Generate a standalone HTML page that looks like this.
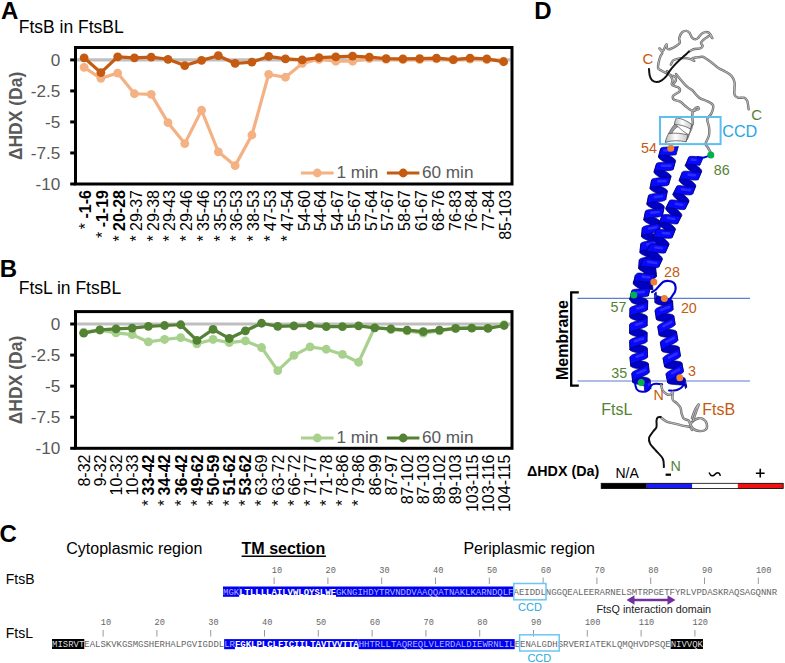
<!DOCTYPE html>
<html><head><meta charset="utf-8"><style>
html,body{margin:0;padding:0;background:#fff;}
svg{display:block;}
</style></head><body>
<svg width="785" height="663" viewBox="0 0 785 663">
<rect width="785" height="663" fill="#fff"/>
<text x="0.90" y="18.90" font-family="'Liberation Sans', sans-serif" font-size="24" fill="#000" font-weight="bold" text-anchor="start" >A</text>
<text x="-0.20" y="276.80" font-family="'Liberation Sans', sans-serif" font-size="24" fill="#000" font-weight="bold" text-anchor="start" >B</text>
<text x="-0.50" y="541.50" font-family="'Liberation Sans', sans-serif" font-size="24" fill="#000" font-weight="bold" text-anchor="start" >C</text>
<text x="534.20" y="18.80" font-family="'Liberation Sans', sans-serif" font-size="24" fill="#000" font-weight="bold" text-anchor="start" >D</text>
<text x="18.70" y="32.70" font-family="'Liberation Sans', sans-serif" font-size="17.5" fill="#000" text-anchor="start" >FtsB in FtsBL</text>
<line x1="77.0" y1="59.9" x2="510.5" y2="59.9" stroke="#BFBFBF" stroke-width="3.2"/>
<line x1="70.2" y1="59.90" x2="75.5" y2="59.90" stroke="#000" stroke-width="3"/>
<text x="60.30" y="65.50" font-family="'Liberation Sans', sans-serif" font-size="17.2" fill="#595959" text-anchor="end" >0</text>
<line x1="70.2" y1="90.92" x2="75.5" y2="90.92" stroke="#000" stroke-width="3"/>
<text x="60.30" y="96.52" font-family="'Liberation Sans', sans-serif" font-size="17.2" fill="#595959" text-anchor="end" >-2.5</text>
<line x1="70.2" y1="121.95" x2="75.5" y2="121.95" stroke="#000" stroke-width="3"/>
<text x="60.30" y="127.55" font-family="'Liberation Sans', sans-serif" font-size="17.2" fill="#595959" text-anchor="end" >-5</text>
<line x1="70.2" y1="152.97" x2="75.5" y2="152.97" stroke="#000" stroke-width="3"/>
<text x="60.30" y="158.57" font-family="'Liberation Sans', sans-serif" font-size="17.2" fill="#595959" text-anchor="end" >-7.5</text>
<line x1="70.2" y1="184.00" x2="75.5" y2="184.00" stroke="#000" stroke-width="3"/>
<text x="60.30" y="189.60" font-family="'Liberation Sans', sans-serif" font-size="17.2" fill="#595959" text-anchor="end" >-10</text>
<rect x="75.5" y="47.50" width="436.5" height="136.50" fill="none" stroke="#000" stroke-width="3"/>
<text transform="translate(22.0,115.90) rotate(-90)" font-family="'Liberation Sans', sans-serif" font-size="17.5" font-weight="bold" fill="#595959" text-anchor="middle">ΔHDX (Da)</text>
<polyline points="84.10,67.29 100.88,78.36 117.66,73.07 134.44,93.75 151.22,94.37 168.00,122.68 184.78,143.61 201.56,110.25 218.34,151.86 235.12,165.64 251.90,134.99 268.68,74.30 285.46,77.26 302.24,63.47 319.02,59.28 335.80,61.25 352.58,61.25 369.36,58.67 386.14,59.28 402.92,59.65 419.70,59.65 436.48,58.92 453.26,59.90 470.04,59.16 486.82,59.65 503.60,61.13" fill="none" stroke="#F4B183" stroke-width="3.2" stroke-linejoin="round"/>
<circle cx="84.10" cy="67.29" r="4.4" fill="#F4B183"/>
<circle cx="100.88" cy="78.36" r="4.4" fill="#F4B183"/>
<circle cx="117.66" cy="73.07" r="4.4" fill="#F4B183"/>
<circle cx="134.44" cy="93.75" r="4.4" fill="#F4B183"/>
<circle cx="151.22" cy="94.37" r="4.4" fill="#F4B183"/>
<circle cx="168.00" cy="122.68" r="4.4" fill="#F4B183"/>
<circle cx="184.78" cy="143.61" r="4.4" fill="#F4B183"/>
<circle cx="201.56" cy="110.25" r="4.4" fill="#F4B183"/>
<circle cx="218.34" cy="151.86" r="4.4" fill="#F4B183"/>
<circle cx="235.12" cy="165.64" r="4.4" fill="#F4B183"/>
<circle cx="251.90" cy="134.99" r="4.4" fill="#F4B183"/>
<circle cx="268.68" cy="74.30" r="4.4" fill="#F4B183"/>
<circle cx="285.46" cy="77.26" r="4.4" fill="#F4B183"/>
<circle cx="302.24" cy="63.47" r="4.4" fill="#F4B183"/>
<circle cx="319.02" cy="59.28" r="4.4" fill="#F4B183"/>
<circle cx="335.80" cy="61.25" r="4.4" fill="#F4B183"/>
<circle cx="352.58" cy="61.25" r="4.4" fill="#F4B183"/>
<circle cx="369.36" cy="58.67" r="4.4" fill="#F4B183"/>
<circle cx="386.14" cy="59.28" r="4.4" fill="#F4B183"/>
<circle cx="402.92" cy="59.65" r="4.4" fill="#F4B183"/>
<circle cx="419.70" cy="59.65" r="4.4" fill="#F4B183"/>
<circle cx="436.48" cy="58.92" r="4.4" fill="#F4B183"/>
<circle cx="453.26" cy="59.90" r="4.4" fill="#F4B183"/>
<circle cx="470.04" cy="59.16" r="4.4" fill="#F4B183"/>
<circle cx="486.82" cy="59.65" r="4.4" fill="#F4B183"/>
<circle cx="503.60" cy="61.13" r="4.4" fill="#F4B183"/>
<polyline points="84.10,57.81 100.88,72.58 117.66,56.82 134.44,57.81 151.22,57.19 168.00,59.28 184.78,65.56 201.56,60.39 218.34,55.71 235.12,63.47 251.90,62.12 268.68,56.45 285.46,58.92 302.24,59.90 319.02,57.56 335.80,56.82 352.58,56.08 369.36,57.07 386.14,58.55 402.92,58.92 419.70,58.67 436.48,58.18 453.26,59.65 470.04,58.18 486.82,58.92 503.60,61.75" fill="none" stroke="#C55A11" stroke-width="3.2" stroke-linejoin="round"/>
<circle cx="84.10" cy="57.81" r="4.4" fill="#C55A11"/>
<circle cx="100.88" cy="72.58" r="4.4" fill="#C55A11"/>
<circle cx="117.66" cy="56.82" r="4.4" fill="#C55A11"/>
<circle cx="134.44" cy="57.81" r="4.4" fill="#C55A11"/>
<circle cx="151.22" cy="57.19" r="4.4" fill="#C55A11"/>
<circle cx="168.00" cy="59.28" r="4.4" fill="#C55A11"/>
<circle cx="184.78" cy="65.56" r="4.4" fill="#C55A11"/>
<circle cx="201.56" cy="60.39" r="4.4" fill="#C55A11"/>
<circle cx="218.34" cy="55.71" r="4.4" fill="#C55A11"/>
<circle cx="235.12" cy="63.47" r="4.4" fill="#C55A11"/>
<circle cx="251.90" cy="62.12" r="4.4" fill="#C55A11"/>
<circle cx="268.68" cy="56.45" r="4.4" fill="#C55A11"/>
<circle cx="285.46" cy="58.92" r="4.4" fill="#C55A11"/>
<circle cx="302.24" cy="59.90" r="4.4" fill="#C55A11"/>
<circle cx="319.02" cy="57.56" r="4.4" fill="#C55A11"/>
<circle cx="335.80" cy="56.82" r="4.4" fill="#C55A11"/>
<circle cx="352.58" cy="56.08" r="4.4" fill="#C55A11"/>
<circle cx="369.36" cy="57.07" r="4.4" fill="#C55A11"/>
<circle cx="386.14" cy="58.55" r="4.4" fill="#C55A11"/>
<circle cx="402.92" cy="58.92" r="4.4" fill="#C55A11"/>
<circle cx="419.70" cy="58.67" r="4.4" fill="#C55A11"/>
<circle cx="436.48" cy="58.18" r="4.4" fill="#C55A11"/>
<circle cx="453.26" cy="59.65" r="4.4" fill="#C55A11"/>
<circle cx="470.04" cy="58.18" r="4.4" fill="#C55A11"/>
<circle cx="486.82" cy="58.92" r="4.4" fill="#C55A11"/>
<circle cx="503.60" cy="61.75" r="4.4" fill="#C55A11"/>
<line x1="300.9" y1="173.0" x2="333.6" y2="173.0" stroke="#F4B183" stroke-width="3.2"/><circle cx="317.3" cy="173.0" r="4.4" fill="#F4B183"/>
<text x="336.40" y="178.30" font-family="'Liberation Sans', sans-serif" font-size="17.2" fill="#595959" text-anchor="start" >1 min</text>
<line x1="386.9" y1="173.0" x2="419.4" y2="173.0" stroke="#C55A11" stroke-width="3.2"/><circle cx="403.2" cy="173.0" r="4.4" fill="#C55A11"/>
<text x="421.90" y="178.30" font-family="'Liberation Sans', sans-serif" font-size="17.2" fill="#595959" text-anchor="start" >60 min</text>
<text transform="translate(91.40,190.00) rotate(-90)" font-family="'Liberation Sans', sans-serif" font-size="16" fill="#000" text-anchor="end"><tspan font-weight="normal">* </tspan><tspan font-weight="bold">-1-6</tspan></text>
<text transform="translate(108.18,190.00) rotate(-90)" font-family="'Liberation Sans', sans-serif" font-size="16" fill="#000" text-anchor="end"><tspan font-weight="normal">* </tspan><tspan font-weight="bold">-1-19</tspan></text>
<text transform="translate(124.96,190.00) rotate(-90)" font-family="'Liberation Sans', sans-serif" font-size="16" fill="#000" text-anchor="end"><tspan font-weight="normal">* </tspan><tspan font-weight="bold">20-28</tspan></text>
<text transform="translate(141.74,190.00) rotate(-90)" font-family="'Liberation Sans', sans-serif" font-size="16" fill="#000" text-anchor="end"><tspan font-weight="normal">* </tspan><tspan font-weight="normal">29-37</tspan></text>
<text transform="translate(158.52,190.00) rotate(-90)" font-family="'Liberation Sans', sans-serif" font-size="16" fill="#000" text-anchor="end"><tspan font-weight="normal">* </tspan><tspan font-weight="normal">29-38</tspan></text>
<text transform="translate(175.30,190.00) rotate(-90)" font-family="'Liberation Sans', sans-serif" font-size="16" fill="#000" text-anchor="end"><tspan font-weight="normal">* </tspan><tspan font-weight="normal">29-43</tspan></text>
<text transform="translate(192.08,190.00) rotate(-90)" font-family="'Liberation Sans', sans-serif" font-size="16" fill="#000" text-anchor="end"><tspan font-weight="normal">* </tspan><tspan font-weight="normal">29-46</tspan></text>
<text transform="translate(208.86,190.00) rotate(-90)" font-family="'Liberation Sans', sans-serif" font-size="16" fill="#000" text-anchor="end"><tspan font-weight="normal">* </tspan><tspan font-weight="normal">35-46</tspan></text>
<text transform="translate(225.64,190.00) rotate(-90)" font-family="'Liberation Sans', sans-serif" font-size="16" fill="#000" text-anchor="end"><tspan font-weight="normal">* </tspan><tspan font-weight="normal">35-53</tspan></text>
<text transform="translate(242.42,190.00) rotate(-90)" font-family="'Liberation Sans', sans-serif" font-size="16" fill="#000" text-anchor="end"><tspan font-weight="normal">* </tspan><tspan font-weight="normal">36-53</tspan></text>
<text transform="translate(259.20,190.00) rotate(-90)" font-family="'Liberation Sans', sans-serif" font-size="16" fill="#000" text-anchor="end"><tspan font-weight="normal">* </tspan><tspan font-weight="normal">38-53</tspan></text>
<text transform="translate(275.98,190.00) rotate(-90)" font-family="'Liberation Sans', sans-serif" font-size="16" fill="#000" text-anchor="end"><tspan font-weight="normal">* </tspan><tspan font-weight="normal">47-53</tspan></text>
<text transform="translate(292.76,190.00) rotate(-90)" font-family="'Liberation Sans', sans-serif" font-size="16" fill="#000" text-anchor="end"><tspan font-weight="normal">* </tspan><tspan font-weight="normal">47-54</tspan></text>
<text transform="translate(309.54,190.00) rotate(-90)" font-family="'Liberation Sans', sans-serif" font-size="16" fill="#000" text-anchor="end"><tspan font-weight="normal">54-60</tspan></text>
<text transform="translate(326.32,190.00) rotate(-90)" font-family="'Liberation Sans', sans-serif" font-size="16" fill="#000" text-anchor="end"><tspan font-weight="normal">54-64</tspan></text>
<text transform="translate(343.10,190.00) rotate(-90)" font-family="'Liberation Sans', sans-serif" font-size="16" fill="#000" text-anchor="end"><tspan font-weight="normal">54-67</tspan></text>
<text transform="translate(359.88,190.00) rotate(-90)" font-family="'Liberation Sans', sans-serif" font-size="16" fill="#000" text-anchor="end"><tspan font-weight="normal">55-67</tspan></text>
<text transform="translate(376.66,190.00) rotate(-90)" font-family="'Liberation Sans', sans-serif" font-size="16" fill="#000" text-anchor="end"><tspan font-weight="normal">57-64</tspan></text>
<text transform="translate(393.44,190.00) rotate(-90)" font-family="'Liberation Sans', sans-serif" font-size="16" fill="#000" text-anchor="end"><tspan font-weight="normal">57-67</tspan></text>
<text transform="translate(410.22,190.00) rotate(-90)" font-family="'Liberation Sans', sans-serif" font-size="16" fill="#000" text-anchor="end"><tspan font-weight="normal">58-67</tspan></text>
<text transform="translate(427.00,190.00) rotate(-90)" font-family="'Liberation Sans', sans-serif" font-size="16" fill="#000" text-anchor="end"><tspan font-weight="normal">61-67</tspan></text>
<text transform="translate(443.78,190.00) rotate(-90)" font-family="'Liberation Sans', sans-serif" font-size="16" fill="#000" text-anchor="end"><tspan font-weight="normal">68-76</tspan></text>
<text transform="translate(460.56,190.00) rotate(-90)" font-family="'Liberation Sans', sans-serif" font-size="16" fill="#000" text-anchor="end"><tspan font-weight="normal">76-83</tspan></text>
<text transform="translate(477.34,190.00) rotate(-90)" font-family="'Liberation Sans', sans-serif" font-size="16" fill="#000" text-anchor="end"><tspan font-weight="normal">76-84</tspan></text>
<text transform="translate(494.12,190.00) rotate(-90)" font-family="'Liberation Sans', sans-serif" font-size="16" fill="#000" text-anchor="end"><tspan font-weight="normal">77-84</tspan></text>
<text transform="translate(510.90,190.00) rotate(-90)" font-family="'Liberation Sans', sans-serif" font-size="16" fill="#000" text-anchor="end"><tspan font-weight="normal">85-103</tspan></text>
<text x="18.70" y="294.30" font-family="'Liberation Sans', sans-serif" font-size="17.5" fill="#000" text-anchor="start" >FtsL in FtsBL</text>
<line x1="77.0" y1="324.0" x2="510.5" y2="324.0" stroke="#BFBFBF" stroke-width="3.2"/>
<line x1="70.2" y1="324.00" x2="75.5" y2="324.00" stroke="#000" stroke-width="3"/>
<text x="60.30" y="329.60" font-family="'Liberation Sans', sans-serif" font-size="17.2" fill="#595959" text-anchor="end" >0</text>
<line x1="70.2" y1="355.07" x2="75.5" y2="355.07" stroke="#000" stroke-width="3"/>
<text x="60.30" y="360.68" font-family="'Liberation Sans', sans-serif" font-size="17.2" fill="#595959" text-anchor="end" >-2.5</text>
<line x1="70.2" y1="386.15" x2="75.5" y2="386.15" stroke="#000" stroke-width="3"/>
<text x="60.30" y="391.75" font-family="'Liberation Sans', sans-serif" font-size="17.2" fill="#595959" text-anchor="end" >-5</text>
<line x1="70.2" y1="417.23" x2="75.5" y2="417.23" stroke="#000" stroke-width="3"/>
<text x="60.30" y="422.83" font-family="'Liberation Sans', sans-serif" font-size="17.2" fill="#595959" text-anchor="end" >-7.5</text>
<line x1="70.2" y1="448.30" x2="75.5" y2="448.30" stroke="#000" stroke-width="3"/>
<text x="60.30" y="453.90" font-family="'Liberation Sans', sans-serif" font-size="17.2" fill="#595959" text-anchor="end" >-10</text>
<rect x="75.5" y="311.60" width="436.5" height="136.70" fill="none" stroke="#000" stroke-width="3"/>
<text transform="translate(22.0,380.00) rotate(-90)" font-family="'Liberation Sans', sans-serif" font-size="17.5" font-weight="bold" fill="#595959" text-anchor="middle">ΔHDX (Da)</text>
<polyline points="83.70,332.17 99.87,330.19 116.04,332.91 132.21,334.65 148.38,341.95 164.55,339.48 180.72,337.62 196.89,343.81 213.06,339.48 229.23,342.57 245.40,340.96 261.57,347.52 277.74,370.67 293.91,355.32 310.08,346.90 326.25,349.26 342.42,354.45 358.59,362.25 374.76,327.22 390.93,329.57 407.10,330.81 423.27,333.16 439.44,330.81 455.61,328.33 471.78,327.71 487.95,327.71 504.12,324.62" fill="none" stroke="#A9D18E" stroke-width="3.2" stroke-linejoin="round"/>
<circle cx="83.70" cy="332.17" r="4.4" fill="#A9D18E"/>
<circle cx="99.87" cy="330.19" r="4.4" fill="#A9D18E"/>
<circle cx="116.04" cy="332.91" r="4.4" fill="#A9D18E"/>
<circle cx="132.21" cy="334.65" r="4.4" fill="#A9D18E"/>
<circle cx="148.38" cy="341.95" r="4.4" fill="#A9D18E"/>
<circle cx="164.55" cy="339.48" r="4.4" fill="#A9D18E"/>
<circle cx="180.72" cy="337.62" r="4.4" fill="#A9D18E"/>
<circle cx="196.89" cy="343.81" r="4.4" fill="#A9D18E"/>
<circle cx="213.06" cy="339.48" r="4.4" fill="#A9D18E"/>
<circle cx="229.23" cy="342.57" r="4.4" fill="#A9D18E"/>
<circle cx="245.40" cy="340.96" r="4.4" fill="#A9D18E"/>
<circle cx="261.57" cy="347.52" r="4.4" fill="#A9D18E"/>
<circle cx="277.74" cy="370.67" r="4.4" fill="#A9D18E"/>
<circle cx="293.91" cy="355.32" r="4.4" fill="#A9D18E"/>
<circle cx="310.08" cy="346.90" r="4.4" fill="#A9D18E"/>
<circle cx="326.25" cy="349.26" r="4.4" fill="#A9D18E"/>
<circle cx="342.42" cy="354.45" r="4.4" fill="#A9D18E"/>
<circle cx="358.59" cy="362.25" r="4.4" fill="#A9D18E"/>
<circle cx="374.76" cy="327.22" r="4.4" fill="#A9D18E"/>
<circle cx="390.93" cy="329.57" r="4.4" fill="#A9D18E"/>
<circle cx="407.10" cy="330.81" r="4.4" fill="#A9D18E"/>
<circle cx="423.27" cy="333.16" r="4.4" fill="#A9D18E"/>
<circle cx="439.44" cy="330.81" r="4.4" fill="#A9D18E"/>
<circle cx="455.61" cy="328.33" r="4.4" fill="#A9D18E"/>
<circle cx="471.78" cy="327.71" r="4.4" fill="#A9D18E"/>
<circle cx="487.95" cy="327.71" r="4.4" fill="#A9D18E"/>
<circle cx="504.12" cy="324.62" r="4.4" fill="#A9D18E"/>
<polyline points="83.70,333.16 99.87,329.82 116.04,328.83 132.21,328.09 148.38,326.35 164.55,325.49 180.72,324.74 196.89,340.47 213.06,329.32 229.23,338.48 245.40,330.81 261.57,323.26 277.74,326.35 293.91,325.86 310.08,325.49 326.25,326.72 342.42,326.72 358.59,325.86 374.76,327.84 390.93,328.83 407.10,330.07 423.27,331.55 439.44,330.07 455.61,328.46 471.78,328.21 487.95,328.46 504.12,325.49" fill="none" stroke="#548235" stroke-width="3.2" stroke-linejoin="round"/>
<circle cx="83.70" cy="333.16" r="4.4" fill="#548235"/>
<circle cx="99.87" cy="329.82" r="4.4" fill="#548235"/>
<circle cx="116.04" cy="328.83" r="4.4" fill="#548235"/>
<circle cx="132.21" cy="328.09" r="4.4" fill="#548235"/>
<circle cx="148.38" cy="326.35" r="4.4" fill="#548235"/>
<circle cx="164.55" cy="325.49" r="4.4" fill="#548235"/>
<circle cx="180.72" cy="324.74" r="4.4" fill="#548235"/>
<circle cx="196.89" cy="340.47" r="4.4" fill="#548235"/>
<circle cx="213.06" cy="329.32" r="4.4" fill="#548235"/>
<circle cx="229.23" cy="338.48" r="4.4" fill="#548235"/>
<circle cx="245.40" cy="330.81" r="4.4" fill="#548235"/>
<circle cx="261.57" cy="323.26" r="4.4" fill="#548235"/>
<circle cx="277.74" cy="326.35" r="4.4" fill="#548235"/>
<circle cx="293.91" cy="325.86" r="4.4" fill="#548235"/>
<circle cx="310.08" cy="325.49" r="4.4" fill="#548235"/>
<circle cx="326.25" cy="326.72" r="4.4" fill="#548235"/>
<circle cx="342.42" cy="326.72" r="4.4" fill="#548235"/>
<circle cx="358.59" cy="325.86" r="4.4" fill="#548235"/>
<circle cx="374.76" cy="327.84" r="4.4" fill="#548235"/>
<circle cx="390.93" cy="328.83" r="4.4" fill="#548235"/>
<circle cx="407.10" cy="330.07" r="4.4" fill="#548235"/>
<circle cx="423.27" cy="331.55" r="4.4" fill="#548235"/>
<circle cx="439.44" cy="330.07" r="4.4" fill="#548235"/>
<circle cx="455.61" cy="328.46" r="4.4" fill="#548235"/>
<circle cx="471.78" cy="328.21" r="4.4" fill="#548235"/>
<circle cx="487.95" cy="328.46" r="4.4" fill="#548235"/>
<circle cx="504.12" cy="325.49" r="4.4" fill="#548235"/>
<line x1="300.9" y1="438.0" x2="333.6" y2="438.0" stroke="#A9D18E" stroke-width="3.2"/><circle cx="317.3" cy="438.0" r="4.4" fill="#A9D18E"/>
<text x="336.40" y="443.30" font-family="'Liberation Sans', sans-serif" font-size="17.2" fill="#595959" text-anchor="start" >1 min</text>
<line x1="386.9" y1="438.0" x2="419.4" y2="438.0" stroke="#548235" stroke-width="3.2"/><circle cx="403.2" cy="438.0" r="4.4" fill="#548235"/>
<text x="421.90" y="443.30" font-family="'Liberation Sans', sans-serif" font-size="17.2" fill="#595959" text-anchor="start" >60 min</text>
<text transform="translate(89.50,454.50) rotate(-90)" font-family="'Liberation Sans', sans-serif" font-size="16" fill="#000" text-anchor="end"><tspan font-weight="normal">8-32</tspan></text>
<text transform="translate(105.67,454.50) rotate(-90)" font-family="'Liberation Sans', sans-serif" font-size="16" fill="#000" text-anchor="end"><tspan font-weight="normal">9-32</tspan></text>
<text transform="translate(121.84,454.50) rotate(-90)" font-family="'Liberation Sans', sans-serif" font-size="16" fill="#000" text-anchor="end"><tspan font-weight="normal">10-32</tspan></text>
<text transform="translate(138.01,454.50) rotate(-90)" font-family="'Liberation Sans', sans-serif" font-size="16" fill="#000" text-anchor="end"><tspan font-weight="normal">10-33</tspan></text>
<text transform="translate(154.18,454.50) rotate(-90)" font-family="'Liberation Sans', sans-serif" font-size="16" fill="#000" text-anchor="end"><tspan font-weight="normal">* </tspan><tspan font-weight="bold">33-42</tspan></text>
<text transform="translate(170.35,454.50) rotate(-90)" font-family="'Liberation Sans', sans-serif" font-size="16" fill="#000" text-anchor="end"><tspan font-weight="normal">* </tspan><tspan font-weight="bold">34-42</tspan></text>
<text transform="translate(186.52,454.50) rotate(-90)" font-family="'Liberation Sans', sans-serif" font-size="16" fill="#000" text-anchor="end"><tspan font-weight="normal">* </tspan><tspan font-weight="bold">36-42</tspan></text>
<text transform="translate(202.69,454.50) rotate(-90)" font-family="'Liberation Sans', sans-serif" font-size="16" fill="#000" text-anchor="end"><tspan font-weight="normal">* </tspan><tspan font-weight="bold">49-62</tspan></text>
<text transform="translate(218.86,454.50) rotate(-90)" font-family="'Liberation Sans', sans-serif" font-size="16" fill="#000" text-anchor="end"><tspan font-weight="normal">* </tspan><tspan font-weight="bold">50-59</tspan></text>
<text transform="translate(235.03,454.50) rotate(-90)" font-family="'Liberation Sans', sans-serif" font-size="16" fill="#000" text-anchor="end"><tspan font-weight="normal">* </tspan><tspan font-weight="bold">51-62</tspan></text>
<text transform="translate(251.20,454.50) rotate(-90)" font-family="'Liberation Sans', sans-serif" font-size="16" fill="#000" text-anchor="end"><tspan font-weight="normal">* </tspan><tspan font-weight="bold">53-62</tspan></text>
<text transform="translate(267.37,454.50) rotate(-90)" font-family="'Liberation Sans', sans-serif" font-size="16" fill="#000" text-anchor="end"><tspan font-weight="normal">* </tspan><tspan font-weight="normal">63-69</tspan></text>
<text transform="translate(283.54,454.50) rotate(-90)" font-family="'Liberation Sans', sans-serif" font-size="16" fill="#000" text-anchor="end"><tspan font-weight="normal">* </tspan><tspan font-weight="normal">63-72</tspan></text>
<text transform="translate(299.71,454.50) rotate(-90)" font-family="'Liberation Sans', sans-serif" font-size="16" fill="#000" text-anchor="end"><tspan font-weight="normal">* </tspan><tspan font-weight="normal">66-72</tspan></text>
<text transform="translate(315.88,454.50) rotate(-90)" font-family="'Liberation Sans', sans-serif" font-size="16" fill="#000" text-anchor="end"><tspan font-weight="normal">* </tspan><tspan font-weight="normal">71-77</tspan></text>
<text transform="translate(332.05,454.50) rotate(-90)" font-family="'Liberation Sans', sans-serif" font-size="16" fill="#000" text-anchor="end"><tspan font-weight="normal">* </tspan><tspan font-weight="normal">71-78</tspan></text>
<text transform="translate(348.22,454.50) rotate(-90)" font-family="'Liberation Sans', sans-serif" font-size="16" fill="#000" text-anchor="end"><tspan font-weight="normal">* </tspan><tspan font-weight="normal">78-86</tspan></text>
<text transform="translate(364.39,454.50) rotate(-90)" font-family="'Liberation Sans', sans-serif" font-size="16" fill="#000" text-anchor="end"><tspan font-weight="normal">* </tspan><tspan font-weight="normal">79-86</tspan></text>
<text transform="translate(380.56,454.50) rotate(-90)" font-family="'Liberation Sans', sans-serif" font-size="16" fill="#000" text-anchor="end"><tspan font-weight="normal">86-99</tspan></text>
<text transform="translate(396.73,454.50) rotate(-90)" font-family="'Liberation Sans', sans-serif" font-size="16" fill="#000" text-anchor="end"><tspan font-weight="normal">87-97</tspan></text>
<text transform="translate(412.90,454.50) rotate(-90)" font-family="'Liberation Sans', sans-serif" font-size="16" fill="#000" text-anchor="end"><tspan font-weight="normal">87-102</tspan></text>
<text transform="translate(429.07,454.50) rotate(-90)" font-family="'Liberation Sans', sans-serif" font-size="16" fill="#000" text-anchor="end"><tspan font-weight="normal">87-103</tspan></text>
<text transform="translate(445.24,454.50) rotate(-90)" font-family="'Liberation Sans', sans-serif" font-size="16" fill="#000" text-anchor="end"><tspan font-weight="normal">89-102</tspan></text>
<text transform="translate(461.41,454.50) rotate(-90)" font-family="'Liberation Sans', sans-serif" font-size="16" fill="#000" text-anchor="end"><tspan font-weight="normal">89-103</tspan></text>
<text transform="translate(477.58,454.50) rotate(-90)" font-family="'Liberation Sans', sans-serif" font-size="16" fill="#000" text-anchor="end"><tspan font-weight="normal">103-115</tspan></text>
<text transform="translate(493.75,454.50) rotate(-90)" font-family="'Liberation Sans', sans-serif" font-size="16" fill="#000" text-anchor="end"><tspan font-weight="normal">103-116</tspan></text>
<text transform="translate(509.92,454.50) rotate(-90)" font-family="'Liberation Sans', sans-serif" font-size="16" fill="#000" text-anchor="end"><tspan font-weight="normal">104-115</tspan></text>
<text x="66.30" y="553.70" font-family="'Liberation Sans', sans-serif" font-size="16" fill="#000" text-anchor="start" >Cytoplasmic region</text>
<text x="241.60" y="553.70" font-family="'Liberation Sans', sans-serif" font-size="16" fill="#000" font-weight="bold" text-anchor="start" >TM section</text>
<line x1="241.6" y1="556.2" x2="325.9" y2="556.2" stroke="#000" stroke-width="1.4"/>
<text x="463.40" y="554.00" font-family="'Liberation Sans', sans-serif" font-size="16" fill="#000" text-anchor="start" >Periplasmic region</text>
<text x="5.80" y="584.20" font-family="'Liberation Sans', sans-serif" font-size="14" fill="#000" text-anchor="start" >FtsB</text>
<text x="5.80" y="638.40" font-family="'Liberation Sans', sans-serif" font-size="14" fill="#000" text-anchor="start" >FtsL</text>
<rect x="223.00" y="586.5" width="16.14" height="10.299999999999955" fill="#0000F0"/>
<rect x="239.14" y="586.5" width="96.84" height="8.5" fill="#0000F0"/>
<rect x="335.98" y="586.5" width="177.54" height="10.299999999999955" fill="#0000F0"/>
<text x="223.00" y="594.6" font-family="'Liberation Mono', monospace" font-size="8.97" fill="#B4B4FF" textLength="16.14" lengthAdjust="spacingAndGlyphs">MGK</text>
<text x="239.14" y="594.6" font-family="'Liberation Mono', monospace" font-size="8.97" fill="#fff" font-weight="bold" textLength="96.84" lengthAdjust="spacingAndGlyphs">LTLLLLAILVWLQYSLWF</text>
<text x="335.98" y="594.6" font-family="'Liberation Mono', monospace" font-size="8.97" fill="#B4B4FF" textLength="177.54" lengthAdjust="spacingAndGlyphs">GKNGIHDYTRVNDDVAAQQATNAKLKARNDQLF</text>
<text x="513.52" y="594.6" font-family="'Liberation Mono', monospace" font-size="8.97" fill="#666" textLength="263.62" lengthAdjust="spacingAndGlyphs">AEIDDLNGGQEALEERARNELSMTRPGETFYRLVPDASKRAQSAGQNNR</text>
<line x1="274.11" y1="577.5" x2="274.11" y2="584.0" stroke="#999" stroke-width="1"/>
<text x="271.72" y="572.9" font-family="'Liberation Mono', monospace" font-size="8.6" fill="#666">10</text>
<line x1="327.91" y1="577.5" x2="327.91" y2="584.0" stroke="#999" stroke-width="1"/>
<text x="325.52" y="572.9" font-family="'Liberation Mono', monospace" font-size="8.6" fill="#666">20</text>
<line x1="381.71" y1="577.5" x2="381.71" y2="584.0" stroke="#999" stroke-width="1"/>
<text x="379.32" y="572.9" font-family="'Liberation Mono', monospace" font-size="8.6" fill="#666">30</text>
<line x1="435.51" y1="577.5" x2="435.51" y2="584.0" stroke="#999" stroke-width="1"/>
<text x="433.12" y="572.9" font-family="'Liberation Mono', monospace" font-size="8.6" fill="#666">40</text>
<line x1="489.31" y1="577.5" x2="489.31" y2="584.0" stroke="#999" stroke-width="1"/>
<text x="486.92" y="572.9" font-family="'Liberation Mono', monospace" font-size="8.6" fill="#666">50</text>
<line x1="543.11" y1="577.5" x2="543.11" y2="584.0" stroke="#999" stroke-width="1"/>
<text x="540.72" y="572.9" font-family="'Liberation Mono', monospace" font-size="8.6" fill="#666">60</text>
<line x1="596.91" y1="577.5" x2="596.91" y2="584.0" stroke="#999" stroke-width="1"/>
<text x="594.52" y="572.9" font-family="'Liberation Mono', monospace" font-size="8.6" fill="#666">70</text>
<line x1="650.71" y1="577.5" x2="650.71" y2="584.0" stroke="#999" stroke-width="1"/>
<text x="648.32" y="572.9" font-family="'Liberation Mono', monospace" font-size="8.6" fill="#666">80</text>
<line x1="704.51" y1="577.5" x2="704.51" y2="584.0" stroke="#999" stroke-width="1"/>
<text x="702.12" y="572.9" font-family="'Liberation Mono', monospace" font-size="8.6" fill="#666">90</text>
<line x1="758.31" y1="577.5" x2="758.31" y2="584.0" stroke="#999" stroke-width="1"/>
<text x="755.92" y="572.9" font-family="'Liberation Mono', monospace" font-size="8.6" fill="#666">100</text>
<rect x="52.00" y="639.0" width="32.28" height="10.0" fill="#000"/>
<rect x="224.16" y="639.1" width="10.76" height="10.100000000000023" fill="#0000F0"/>
<rect x="234.92" y="639.1" width="123.74" height="7.899999999999977" fill="#0000F0"/>
<rect x="358.66" y="639.1" width="156.02" height="10.100000000000023" fill="#0000F0"/>
<rect x="670.70" y="639.0" width="32.28" height="10.0" fill="#000"/>
<text x="52.00" y="647.1" font-family="'Liberation Mono', monospace" font-size="8.97" fill="#ddd" textLength="32.28" lengthAdjust="spacingAndGlyphs">MISRVT</text>
<text x="84.28" y="647.1" font-family="'Liberation Mono', monospace" font-size="8.97" fill="#666" textLength="139.88" lengthAdjust="spacingAndGlyphs">EALSKVKGSMGSHERHALPGVIGDDL</text>
<text x="224.16" y="647.1" font-family="'Liberation Mono', monospace" font-size="8.97" fill="#B4B4FF" textLength="10.76" lengthAdjust="spacingAndGlyphs">LR</text>
<text x="234.92" y="647.1" font-family="'Liberation Mono', monospace" font-size="8.97" fill="#fff" font-weight="bold" textLength="123.74" lengthAdjust="spacingAndGlyphs">FGKLPLCLFICIILTAVTVVTTA</text>
<text x="358.66" y="647.1" font-family="'Liberation Mono', monospace" font-size="8.97" fill="#B4B4FF" textLength="156.02" lengthAdjust="spacingAndGlyphs">HHTRLLTAQREQLVLERDALDIEWRNLIL</text>
<text x="514.68" y="647.1" font-family="'Liberation Mono', monospace" font-size="8.97" fill="#666" textLength="156.02" lengthAdjust="spacingAndGlyphs">EENALGDHSRVERIATEKLQMQHVDPSQE</text>
<text x="670.70" y="647.1" font-family="'Liberation Mono', monospace" font-size="8.97" fill="#ddd" textLength="32.28" lengthAdjust="spacingAndGlyphs">NIVVQK</text>
<line x1="103.11" y1="630.0" x2="103.11" y2="636.6" stroke="#999" stroke-width="1"/>
<text x="100.72" y="625.3" font-family="'Liberation Mono', monospace" font-size="8.6" fill="#666">10</text>
<line x1="156.91" y1="630.0" x2="156.91" y2="636.6" stroke="#999" stroke-width="1"/>
<text x="154.52" y="625.3" font-family="'Liberation Mono', monospace" font-size="8.6" fill="#666">20</text>
<line x1="210.71" y1="630.0" x2="210.71" y2="636.6" stroke="#999" stroke-width="1"/>
<text x="208.32" y="625.3" font-family="'Liberation Mono', monospace" font-size="8.6" fill="#666">30</text>
<line x1="264.51" y1="630.0" x2="264.51" y2="636.6" stroke="#999" stroke-width="1"/>
<text x="262.12" y="625.3" font-family="'Liberation Mono', monospace" font-size="8.6" fill="#666">40</text>
<line x1="318.31" y1="630.0" x2="318.31" y2="636.6" stroke="#999" stroke-width="1"/>
<text x="315.92" y="625.3" font-family="'Liberation Mono', monospace" font-size="8.6" fill="#666">50</text>
<line x1="372.11" y1="630.0" x2="372.11" y2="636.6" stroke="#999" stroke-width="1"/>
<text x="369.72" y="625.3" font-family="'Liberation Mono', monospace" font-size="8.6" fill="#666">60</text>
<line x1="425.91" y1="630.0" x2="425.91" y2="636.6" stroke="#999" stroke-width="1"/>
<text x="423.52" y="625.3" font-family="'Liberation Mono', monospace" font-size="8.6" fill="#666">70</text>
<line x1="479.71" y1="630.0" x2="479.71" y2="636.6" stroke="#999" stroke-width="1"/>
<text x="477.32" y="625.3" font-family="'Liberation Mono', monospace" font-size="8.6" fill="#666">80</text>
<line x1="533.51" y1="630.0" x2="533.51" y2="636.6" stroke="#999" stroke-width="1"/>
<text x="531.12" y="625.3" font-family="'Liberation Mono', monospace" font-size="8.6" fill="#666">90</text>
<line x1="587.31" y1="630.0" x2="587.31" y2="636.6" stroke="#999" stroke-width="1"/>
<text x="584.92" y="625.3" font-family="'Liberation Mono', monospace" font-size="8.6" fill="#666">100</text>
<line x1="641.11" y1="630.0" x2="641.11" y2="636.6" stroke="#999" stroke-width="1"/>
<text x="638.72" y="625.3" font-family="'Liberation Mono', monospace" font-size="8.6" fill="#666">110</text>
<line x1="694.91" y1="630.0" x2="694.91" y2="636.6" stroke="#999" stroke-width="1"/>
<text x="692.52" y="625.3" font-family="'Liberation Mono', monospace" font-size="8.6" fill="#666">120</text>
<rect x="513.8" y="583.5" width="32.2" height="16.3" fill="none" stroke="#6CC6F2" stroke-width="1.5"/>
<text x="518.00" y="610.70" font-family="'Liberation Sans', sans-serif" font-size="11" fill="#29A8E0" text-anchor="start" >CCD</text>
<rect x="519.6" y="634.8" width="39.6" height="16.2" fill="none" stroke="#6CC6F2" stroke-width="1.5"/>
<text x="527.40" y="661.60" font-family="'Liberation Sans', sans-serif" font-size="11" fill="#29A8E0" text-anchor="start" >CCD</text>
<line x1="632" y1="600" x2="670" y2="600" stroke="#7030A0" stroke-width="2.6"/>
<polygon points="626.5,600 634.5,595.2 634.5,604.8" fill="#7030A0"/>
<polygon points="675.5,600 667.5,595.2 667.5,604.8" fill="#7030A0"/>
<text x="596.50" y="613.30" font-family="'Liberation Sans', sans-serif" font-size="10.8" fill="#222" text-anchor="start" >FtsQ interaction domain</text>
<line x1="577.5" y1="298.3" x2="750" y2="298.3" stroke="#5B7FD0" stroke-width="1.2"/>
<line x1="577.5" y1="381.0" x2="750" y2="381.0" stroke="#5B7FD0" stroke-width="1.2"/>
<path d="M578.8,292.4 H571.2 V385.6 H578.8" fill="none" stroke="#000" stroke-width="2.3"/>
<text transform="translate(568.2,340.0) rotate(-90)" font-family="'Liberation Sans', sans-serif" font-size="16" font-weight="bold" fill="#000" text-anchor="middle">Membrane</text>
<path d="M688.9,51.6 C689.8,51.2 692.4,49.5 694.3,49.0 C696.2,48.5 698.9,48.9 700.3,48.4 C701.7,47.9 702.6,46.8 702.7,45.9 C702.8,45.0 700.7,44.0 700.9,42.9 C701.1,41.8 702.9,40.3 704.0,39.3 C705.1,38.3 706.6,37.5 707.6,36.9 C708.6,36.3 709.2,35.5 710.0,35.7 C710.8,35.9 712.6,38.6 712.4,38.1 C712.2,37.6 710.0,33.7 708.8,32.7 C707.6,31.7 706.4,31.9 705.2,32.1 C704.0,32.3 702.7,32.9 701.5,33.9 C700.3,34.9 699.0,37.2 697.9,38.1 C696.8,39.0 695.9,39.4 694.9,39.3 C693.9,39.2 692.8,38.6 691.9,37.5 C691.0,36.4 690.4,33.8 689.5,32.7 C688.6,31.6 687.7,31.0 686.5,30.9 C685.3,30.8 683.4,30.9 682.2,32.1 C681.0,33.3 679.6,36.3 679.2,38.1 C678.8,39.9 680.3,41.6 679.8,42.9 C679.3,44.2 677.8,44.9 676.2,45.9 C674.6,46.9 671.7,48.6 670.2,49.0 C668.7,49.4 667.7,49.2 667.1,48.4 C666.5,47.6 666.9,44.2 666.5,44.1 C666.1,44.0 665.3,46.6 664.7,47.7 C664.1,48.8 663.8,50.7 662.9,50.8 C662.0,50.9 659.4,48.1 659.3,48.4 C659.2,48.7 662.1,51.3 662.3,52.6 C662.5,53.9 661.1,54.6 660.5,56.2 C659.9,57.8 659.1,60.2 658.7,62.2 C658.3,64.2 657.6,66.9 658.1,68.3 C658.6,69.7 660.3,69.9 661.7,70.7 C663.1,71.5 664.9,72.3 666.5,73.1 C668.1,73.9 670.0,74.9 671.4,75.5 C672.8,76.1 674.2,76.0 675.0,76.7 C675.8,77.5 676.2,78.8 676.0,80.0 C675.8,81.2 673.9,83.3 673.5,84.0" fill="none" stroke="#666666" stroke-width="2.4" stroke-linejoin="round" stroke-linecap="round" />
<path d="M688.9,51.6 C689.8,51.2 692.4,49.5 694.3,49.0 C696.2,48.5 698.9,48.9 700.3,48.4 C701.7,47.9 702.6,46.8 702.7,45.9 C702.8,45.0 700.7,44.0 700.9,42.9 C701.1,41.8 702.9,40.3 704.0,39.3 C705.1,38.3 706.6,37.5 707.6,36.9 C708.6,36.3 709.2,35.5 710.0,35.7 C710.8,35.9 712.6,38.6 712.4,38.1 C712.2,37.6 710.0,33.7 708.8,32.7 C707.6,31.7 706.4,31.9 705.2,32.1 C704.0,32.3 702.7,32.9 701.5,33.9 C700.3,34.9 699.0,37.2 697.9,38.1 C696.8,39.0 695.9,39.4 694.9,39.3 C693.9,39.2 692.8,38.6 691.9,37.5 C691.0,36.4 690.4,33.8 689.5,32.7 C688.6,31.6 687.7,31.0 686.5,30.9 C685.3,30.8 683.4,30.9 682.2,32.1 C681.0,33.3 679.6,36.3 679.2,38.1 C678.8,39.9 680.3,41.6 679.8,42.9 C679.3,44.2 677.8,44.9 676.2,45.9 C674.6,46.9 671.7,48.6 670.2,49.0 C668.7,49.4 667.7,49.2 667.1,48.4 C666.5,47.6 666.9,44.2 666.5,44.1 C666.1,44.0 665.3,46.6 664.7,47.7 C664.1,48.8 663.8,50.7 662.9,50.8 C662.0,50.9 659.4,48.1 659.3,48.4 C659.2,48.7 662.1,51.3 662.3,52.6 C662.5,53.9 661.1,54.6 660.5,56.2 C659.9,57.8 659.1,60.2 658.7,62.2 C658.3,64.2 657.6,66.9 658.1,68.3 C658.6,69.7 660.3,69.9 661.7,70.7 C663.1,71.5 664.9,72.3 666.5,73.1 C668.1,73.9 670.0,74.9 671.4,75.5 C672.8,76.1 674.2,76.0 675.0,76.7 C675.8,77.5 676.2,78.8 676.0,80.0 C675.8,81.2 673.9,83.3 673.5,84.0" fill="none" stroke="#b4b4b4" stroke-width="1.1" stroke-linejoin="round" stroke-linecap="round" />
<path d="M670.8,64.6 C671.2,63.9 671.9,61.4 673.2,60.4 C674.5,59.4 676.7,59.0 678.6,58.6 C680.5,58.2 682.6,57.9 684.6,58.0 C686.6,58.1 689.1,58.7 690.7,59.2 C692.3,59.7 694.1,61.1 694.3,61.0 C694.5,60.9 691.5,59.2 691.9,58.6 C692.3,58.0 694.9,57.7 696.7,57.4 C698.5,57.1 701.2,56.6 702.7,56.8 C704.2,57.0 704.4,57.7 705.8,58.6 C707.2,59.5 709.0,60.6 711.2,62.2 C713.4,63.8 716.5,66.8 718.8,68.3 C721.1,69.8 723.0,70.3 725.1,71.5 C727.2,72.7 729.8,74.0 731.4,75.7 C733.0,77.5 734.0,79.9 734.5,82.0 C735.0,84.1 734.5,86.2 734.5,88.3 C734.5,90.4 734.0,93.0 734.5,94.6 C735.0,96.2 736.1,97.2 737.7,97.7 C739.3,98.2 742.4,97.2 744.0,97.7 C745.6,98.2 746.4,99.0 747.2,100.9 C748.0,102.8 748.4,107.9 748.6,109.3" fill="none" stroke="#666666" stroke-width="2.4" stroke-linejoin="round" stroke-linecap="round" />
<path d="M670.8,64.6 C671.2,63.9 671.9,61.4 673.2,60.4 C674.5,59.4 676.7,59.0 678.6,58.6 C680.5,58.2 682.6,57.9 684.6,58.0 C686.6,58.1 689.1,58.7 690.7,59.2 C692.3,59.7 694.1,61.1 694.3,61.0 C694.5,60.9 691.5,59.2 691.9,58.6 C692.3,58.0 694.9,57.7 696.7,57.4 C698.5,57.1 701.2,56.6 702.7,56.8 C704.2,57.0 704.4,57.7 705.8,58.6 C707.2,59.5 709.0,60.6 711.2,62.2 C713.4,63.8 716.5,66.8 718.8,68.3 C721.1,69.8 723.0,70.3 725.1,71.5 C727.2,72.7 729.8,74.0 731.4,75.7 C733.0,77.5 734.0,79.9 734.5,82.0 C735.0,84.1 734.5,86.2 734.5,88.3 C734.5,90.4 734.0,93.0 734.5,94.6 C735.0,96.2 736.1,97.2 737.7,97.7 C739.3,98.2 742.4,97.2 744.0,97.7 C745.6,98.2 746.4,99.0 747.2,100.9 C748.0,102.8 748.4,107.9 748.6,109.3" fill="none" stroke="#b4b4b4" stroke-width="1.1" stroke-linejoin="round" stroke-linecap="round" />
<path d="M667.0,71.0 C667.9,72.4 671.5,77.1 672.3,79.3 C673.1,81.5 671.4,83.0 671.7,84.1 C672.0,85.2 672.9,85.3 674.1,85.9 C675.3,86.5 678.1,86.9 679.0,87.8 C679.9,88.7 680.1,90.4 679.6,91.4 C679.1,92.4 677.1,93.0 676.0,93.8 C674.9,94.6 673.2,95.2 672.9,96.2 C672.6,97.2 672.9,98.9 674.1,99.8 C675.3,100.7 678.4,100.6 680.2,101.6 C682.0,102.6 683.4,104.5 685.0,105.8 C686.6,107.1 688.5,108.7 689.8,109.5 C691.1,110.3 691.8,110.6 692.8,110.7 C693.8,110.8 694.8,110.4 695.8,110.1 C696.8,109.8 698.6,109.4 698.9,108.9 C699.2,108.4 698.4,107.2 697.7,107.2 C697.0,107.2 695.4,108.1 694.6,108.9 C693.8,109.7 693.2,110.6 692.8,111.9 C692.4,113.2 692.2,114.7 692.2,116.7 C692.2,118.7 693.2,122.4 692.8,124.0 C692.4,125.6 690.3,125.9 689.8,126.3" fill="none" stroke="#666666" stroke-width="2.4" stroke-linejoin="round" stroke-linecap="round" />
<path d="M667.0,71.0 C667.9,72.4 671.5,77.1 672.3,79.3 C673.1,81.5 671.4,83.0 671.7,84.1 C672.0,85.2 672.9,85.3 674.1,85.9 C675.3,86.5 678.1,86.9 679.0,87.8 C679.9,88.7 680.1,90.4 679.6,91.4 C679.1,92.4 677.1,93.0 676.0,93.8 C674.9,94.6 673.2,95.2 672.9,96.2 C672.6,97.2 672.9,98.9 674.1,99.8 C675.3,100.7 678.4,100.6 680.2,101.6 C682.0,102.6 683.4,104.5 685.0,105.8 C686.6,107.1 688.5,108.7 689.8,109.5 C691.1,110.3 691.8,110.6 692.8,110.7 C693.8,110.8 694.8,110.4 695.8,110.1 C696.8,109.8 698.6,109.4 698.9,108.9 C699.2,108.4 698.4,107.2 697.7,107.2 C697.0,107.2 695.4,108.1 694.6,108.9 C693.8,109.7 693.2,110.6 692.8,111.9 C692.4,113.2 692.2,114.7 692.2,116.7 C692.2,118.7 693.2,122.4 692.8,124.0 C692.4,125.6 690.3,125.9 689.8,126.3" fill="none" stroke="#b4b4b4" stroke-width="1.1" stroke-linejoin="round" stroke-linecap="round" />
<path d="M676.0,74.0 C677.7,76.0 683.5,83.2 686.2,85.9 C688.9,88.6 690.4,88.6 692.2,90.2 C694.0,91.8 695.6,94.2 697.0,95.6 C698.4,97.0 699.1,97.7 700.7,98.6 C702.3,99.5 704.8,100.1 706.7,101.0 C708.6,101.9 711.0,103.0 712.1,104.0 C713.2,105.0 713.4,105.5 713.3,107.0 C713.2,108.5 712.4,111.3 711.5,113.1 C710.6,114.9 708.6,116.7 707.9,117.9 C707.2,119.1 707.1,118.7 707.3,120.3 C707.5,121.9 708.8,125.2 709.1,127.6 C709.4,130.0 709.4,132.9 709.1,134.8 C708.8,136.7 708.1,137.6 707.5,139.2 C706.9,140.8 705.5,142.8 705.5,144.1 C705.5,145.4 706.7,145.7 707.5,147.0 C708.3,148.3 709.9,151.2 710.4,152.0" fill="none" stroke="#666666" stroke-width="2.4" stroke-linejoin="round" stroke-linecap="round" />
<path d="M676.0,74.0 C677.7,76.0 683.5,83.2 686.2,85.9 C688.9,88.6 690.4,88.6 692.2,90.2 C694.0,91.8 695.6,94.2 697.0,95.6 C698.4,97.0 699.1,97.7 700.7,98.6 C702.3,99.5 704.8,100.1 706.7,101.0 C708.6,101.9 711.0,103.0 712.1,104.0 C713.2,105.0 713.4,105.5 713.3,107.0 C713.2,108.5 712.4,111.3 711.5,113.1 C710.6,114.9 708.6,116.7 707.9,117.9 C707.2,119.1 707.1,118.7 707.3,120.3 C707.5,121.9 708.8,125.2 709.1,127.6 C709.4,130.0 709.4,132.9 709.1,134.8 C708.8,136.7 708.1,137.6 707.5,139.2 C706.9,140.8 705.5,142.8 705.5,144.1 C705.5,145.4 706.7,145.7 707.5,147.0 C708.3,148.3 709.9,151.2 710.4,152.0" fill="none" stroke="#b4b4b4" stroke-width="1.1" stroke-linejoin="round" stroke-linecap="round" />
<path d="M649.0,68.9 C649.1,70.0 649.2,73.6 649.7,75.5 C650.2,77.4 650.9,79.2 652.1,80.3 C653.3,81.4 655.3,82.1 656.9,82.1 C658.5,82.1 660.2,81.2 661.7,80.3 C663.2,79.4 664.7,78.1 665.9,76.7 C667.1,75.3 667.7,73.7 669.0,71.9 C670.3,70.1 672.0,67.9 673.8,65.9 C675.6,63.9 678.0,61.5 679.8,59.8 C681.6,58.1 683.1,57.0 684.6,55.6 C686.1,54.2 688.2,52.3 688.9,51.6" fill="none" stroke="#111" stroke-width="2.0" stroke-linejoin="round" stroke-linecap="round" />
<defs><linearGradient id="wg" x1="0" y1="0" x2="1" y2="0"><stop offset="0" stop-color="#b8b8b8"/><stop offset="0.45" stop-color="#ffffff"/><stop offset="1" stop-color="#c4c4c4"/></linearGradient></defs>
<path d="M674.5,124.5 C672,127 670,130.5 668.5,134 L671.5,134 C673,130.5 675.5,128 678,126.5 Z" fill="#9a9a9a" stroke="#444" stroke-width="0.6"/>
<path d="M678,126.5 C681,129.5 684,132 688,134.5" fill="none" stroke="#555" stroke-width="0.8"/>
<path d="M692,124.5 C693,128 691,131.5 688,135 L686,141.5 C688.5,138 690,133 690.5,129 Z" fill="#d6d6d6" stroke="#444" stroke-width="0.7"/>
<path d="M676.5,117.8 C681,118.3 687,120.8 692,124.5 L690.5,129 C686,126.2 680,124.6 674.2,124.3 C674.8,121.6 675.5,119.5 676.5,117.8 Z" fill="url(#wg)" stroke="#444" stroke-width="0.7"/>
<path d="M668.5,133.6 C675,132.6 682,133.4 688,135 L686,141.8 C679,140.3 671.5,140.3 665.2,142.5 C666,139 667,136 668.5,133.6 Z" fill="url(#wg)" stroke="#444" stroke-width="0.7"/>
<path d="M660.65,148.79 L660.76,149.19 L661.03,149.62 L661.44,150.10 L661.99,150.61 L662.68,151.16 L663.47,151.74 L664.36,152.35 L665.32,152.98 L666.35,153.62 L667.40,154.27 L668.48,154.93 L669.54,155.58 L670.58,156.23 L671.56,156.86 L672.48,157.47 L673.30,158.06 L674.02,158.62 L674.61,159.15 L675.07,159.63 L675.38,160.08 L675.54,160.49 L675.54,160.85 L675.38,161.17 L673.11,169.47 L673.27,169.15 L673.27,168.78 L673.11,168.38 L672.80,167.93 L672.34,167.44 L671.75,166.92 L671.03,166.36 L670.21,165.77 L669.29,165.16 L668.31,164.52 L667.27,163.88 L666.21,163.22 L665.13,162.57 L664.07,161.91 L663.05,161.27 L662.09,160.64 L661.20,160.04 L660.41,159.46 L659.72,158.91 L659.17,158.39 L658.76,157.92 L658.49,157.48 L658.38,157.09Z" fill="#0000C4" stroke="#000070" stroke-width="0.7" stroke-linejoin="round"/>
<path d="M656.51,163.73 L656.50,164.09 L656.64,164.50 L656.94,164.96 L657.38,165.46 L657.96,166.00 L658.65,166.58 L659.46,167.19 L660.35,167.82 L661.32,168.48 L662.33,169.16 L663.38,169.84 L664.43,170.53 L665.47,171.21 L666.48,171.89 L667.43,172.54 L668.30,173.17 L669.08,173.78 L669.75,174.34 L670.29,174.88 L670.69,175.36 L670.95,175.81 L671.06,176.21 L671.00,176.56 L668.50,184.78 L668.55,184.43 L668.45,184.04 L668.19,183.59 L667.78,183.10 L667.24,182.57 L666.57,182.00 L665.79,181.40 L664.92,180.77 L663.97,180.11 L662.97,179.44 L661.93,178.76 L660.87,178.07 L659.83,177.39 L658.81,176.71 L657.85,176.05 L656.95,175.41 L656.15,174.80 L655.45,174.22 L654.88,173.68 L654.43,173.18 L654.14,172.73 L654.00,172.32 L654.01,171.96Z" fill="#0000C4" stroke="#000070" stroke-width="0.7" stroke-linejoin="round"/>
<path d="M651.64,179.98 L651.71,180.35 L651.93,180.76 L652.32,181.19 L652.84,181.65 L653.51,182.14 L654.29,182.65 L655.18,183.18 L656.15,183.74 L657.20,184.30 L658.29,184.87 L659.40,185.45 L660.51,186.03 L661.61,186.60 L662.66,187.17 L663.65,187.72 L664.56,188.26 L665.36,188.78 L666.05,189.27 L666.60,189.74 L667.01,190.17 L667.27,190.58 L667.37,190.96 L667.31,191.30 L665.63,199.74 L665.69,199.39 L665.60,199.02 L665.34,198.61 L664.93,198.17 L664.37,197.70 L663.69,197.21 L662.88,196.69 L661.98,196.16 L660.99,195.60 L659.93,195.04 L658.84,194.46 L657.72,193.89 L656.61,193.31 L655.52,192.73 L654.48,192.17 L653.50,191.62 L652.62,191.09 L651.83,190.57 L651.17,190.09 L650.64,189.62 L650.26,189.19 L650.03,188.79 L649.96,188.42Z" fill="#0000C4" stroke="#000070" stroke-width="0.7" stroke-linejoin="round"/>
<path d="M648.52,195.77 L648.64,196.15 L648.91,196.56 L649.33,197.00 L649.90,197.47 L650.59,197.96 L651.41,198.48 L652.32,199.02 L653.32,199.58 L654.38,200.15 L655.47,200.72 L656.59,201.30 L657.70,201.88 L658.78,202.46 L659.82,203.02 L660.79,203.57 L661.67,204.10 L662.44,204.62 L663.09,205.10 L663.60,205.56 L663.97,205.99 L664.18,206.39 L664.24,206.76 L664.13,207.09 L662.44,215.53 L662.55,215.19 L662.50,214.83 L662.29,214.43 L661.92,214.00 L661.40,213.54 L660.75,213.05 L659.98,212.54 L659.10,212.00 L658.13,211.45 L657.10,210.89 L656.01,210.32 L654.90,209.74 L653.79,209.16 L652.69,208.58 L651.63,208.01 L650.64,207.46 L649.72,206.92 L648.91,206.40 L648.21,205.90 L647.64,205.43 L647.22,204.99 L646.95,204.58 L646.84,204.20Z" fill="#0000C4" stroke="#000070" stroke-width="0.7" stroke-linejoin="round"/>
<path d="M645.40,211.57 L645.56,211.96 L645.87,212.38 L646.34,212.83 L646.94,213.30 L647.68,213.81 L648.52,214.33 L649.46,214.87 L650.48,215.43 L651.55,216.00 L652.65,216.58 L653.77,217.16 L654.87,217.73 L655.95,218.30 L656.97,218.86 L657.91,219.41 L658.77,219.93 L659.51,220.44 L660.12,220.92 L660.60,221.37 L660.92,221.79 L661.09,222.18 L661.10,222.54 L659.42,230.97 L659.42,230.61 L659.25,230.22 L658.92,229.80 L658.45,229.35 L657.83,228.87 L657.09,228.37 L656.24,227.84 L655.29,227.30 L654.27,226.74 L653.20,226.17 L652.09,225.59 L650.98,225.01 L649.87,224.44 L648.80,223.87 L647.78,223.31 L646.84,222.76 L646.00,222.24 L645.27,221.74 L644.66,221.26 L644.20,220.81 L643.88,220.39 L643.73,220.00Z" fill="#0000C4" stroke="#000070" stroke-width="0.7" stroke-linejoin="round"/>
<path d="M642.34,227.88 L642.42,228.24 L642.66,228.61 L643.06,229.00 L643.60,229.41 L644.29,229.83 L645.10,230.26 L646.02,230.70 L647.03,231.16 L648.11,231.62 L649.25,232.08 L650.41,232.55 L651.57,233.01 L652.73,233.48 L653.84,233.94 L654.89,234.40 L655.86,234.85 L656.72,235.28 L657.48,235.71 L658.10,236.12 L658.57,236.52 L658.89,236.91 L659.05,237.27 L659.05,237.62 L658.20,246.18 L658.20,245.83 L658.04,245.46 L657.72,245.08 L657.25,244.68 L656.63,244.27 L655.87,243.84 L655.01,243.40 L654.04,242.96 L652.99,242.50 L651.87,242.04 L650.72,241.57 L649.56,241.10 L648.40,240.64 L647.26,240.17 L646.18,239.71 L645.17,239.26 L644.25,238.82 L643.44,238.39 L642.75,237.97 L642.21,237.56 L641.81,237.17 L641.57,236.79 L641.49,236.43Z" fill="#0000C4" stroke="#000070" stroke-width="0.7" stroke-linejoin="round"/>
<path d="M640.77,243.90 L640.89,244.26 L641.17,244.64 L641.61,245.04 L642.20,245.45 L642.92,245.87 L643.76,246.31 L644.71,246.75 L645.74,247.21 L646.84,247.67 L647.99,248.13 L649.15,248.60 L650.32,249.07 L651.46,249.53 L652.55,249.99 L653.58,250.45 L654.53,250.89 L655.37,251.33 L656.08,251.75 L656.66,252.16 L657.10,252.55 L657.37,252.93 L657.49,253.30 L657.35,253.40 L656.72,261.98 L656.64,261.85 L656.52,261.49 L656.25,261.11 L655.81,260.72 L655.23,260.31 L654.52,259.88 L653.68,259.45 L652.73,259.00 L651.70,258.55 L650.61,258.09 L649.47,257.62 L648.30,257.16 L647.14,256.69 L645.99,256.22 L644.89,255.76 L643.86,255.31 L642.91,254.86 L642.07,254.43 L641.35,254.00 L640.76,253.59 L640.32,253.20 L640.04,252.82 L639.92,252.45Z" fill="#0000C4" stroke="#000070" stroke-width="0.7" stroke-linejoin="round"/>
<path d="M639.28,260.16 L639.46,260.52 L639.80,260.90 L640.29,261.28 L640.93,261.68 L641.70,262.09 L642.58,262.50 L643.57,262.92 L644.63,263.35 L645.76,263.79 L646.92,264.22 L648.10,264.66 L649.27,265.10 L650.42,265.53 L651.51,265.96 L652.53,266.38 L653.45,266.80 L654.27,267.21 L654.96,267.61 L655.51,268.01 L655.20,267.00 L655.50,267.32 L655.63,267.66 L655.60,268.02 L656.40,276.58 L656.43,276.23 L656.29,275.89 L655.99,275.56 L654.89,276.58 L654.34,276.19 L653.65,275.79 L652.83,275.38 L651.90,274.96 L650.88,274.54 L649.79,274.11 L648.65,273.67 L647.48,273.24 L646.30,272.80 L645.13,272.36 L644.01,271.93 L642.94,271.50 L641.96,271.08 L641.07,270.66 L640.30,270.26 L639.67,269.86 L639.18,269.47 L638.84,269.10 L638.66,268.73Z" fill="#0000C4" stroke="#000070" stroke-width="0.7" stroke-linejoin="round"/>
<path d="M638.85,277.31 L638.97,277.65 L639.25,277.97 L639.69,278.28 L640.28,278.58 L641.01,278.86 L641.87,279.13 L642.84,279.40 L643.91,279.65 L645.05,279.89 L646.24,280.13 L647.47,280.37 L648.70,280.61 L649.93,280.85 L651.11,281.09 L652.24,281.33 L653.04,289.90 L651.91,289.65 L650.72,289.41 L649.50,289.17 L648.26,288.93 L647.04,288.70 L645.84,288.46 L644.70,288.21 L643.64,287.96 L642.67,287.70 L641.81,287.43 L641.08,287.14 L640.49,286.85 L640.05,286.53 L639.77,286.21 L639.65,285.87Z" fill="#0000C4" stroke="#000070" stroke-width="0.7" stroke-linejoin="round"/>
<path d="M678.38,146.39 L677.66,146.56 L676.82,146.69 L675.85,146.79 L674.79,146.86 L673.65,146.91 L672.45,146.94 L671.21,146.97 L669.95,146.99 L668.70,147.01 L667.48,147.03 L666.30,147.07 L665.19,147.13 L664.16,147.22 L663.25,147.33 L662.45,147.47 L661.79,147.65 L661.27,147.87 L660.90,148.14 L660.70,148.44 L660.65,148.79 L658.38,157.09 L658.43,156.74 L658.63,156.43 L659.00,156.17 L659.52,155.95 L660.18,155.77 L660.98,155.62 L661.89,155.51 L662.92,155.43 L664.03,155.37 L665.20,155.33 L666.43,155.30 L667.68,155.28 L668.94,155.26 L670.18,155.24 L671.38,155.20 L672.52,155.15 L673.58,155.08 L674.54,154.98 L675.39,154.85 L676.11,154.69Z" fill="#0808FF" stroke="#000070" stroke-width="0.7" stroke-linejoin="round"/>
<path d="M675.38,161.17 L675.06,161.45 L674.59,161.68 L673.97,161.87 L673.21,162.03 L672.33,162.15 L671.34,162.24 L670.26,162.31 L669.10,162.35 L667.88,162.38 L666.64,162.41 L665.49,162.44 L664.24,162.42 L663.03,162.42 L661.87,162.43 L660.78,162.47 L659.78,162.53 L658.89,162.62 L658.13,162.76 L657.50,162.93 L657.02,163.15 L656.69,163.42 L656.51,163.73 L654.01,171.96 L654.18,171.64 L654.51,171.38 L654.99,171.16 L655.62,170.98 L656.39,170.85 L657.28,170.76 L658.27,170.69 L659.36,170.66 L660.52,170.65 L661.74,170.65 L662.98,170.67 L664.37,170.70 L665.61,170.68 L666.83,170.65 L667.98,170.60 L669.07,170.54 L670.06,170.45 L670.94,170.32 L671.70,170.17 L672.32,169.98 L672.79,169.74 L673.11,169.47Z" fill="#0808FF" stroke="#000070" stroke-width="0.7" stroke-linejoin="round"/>
<path d="M671.00,176.56 L670.79,176.86 L670.42,177.11 L669.90,177.32 L669.24,177.48 L668.44,177.60 L667.52,177.69 L666.50,177.75 L665.39,177.77 L664.21,177.78 L662.99,177.77 L661.36,177.63 L660.10,177.74 L658.87,177.85 L657.67,177.97 L656.54,178.10 L655.48,178.25 L654.52,178.42 L653.68,178.61 L652.97,178.82 L652.41,179.07 L651.99,179.34 L651.73,179.65 L651.64,179.98 L649.96,188.42 L650.06,188.08 L650.31,187.78 L650.73,187.50 L651.30,187.26 L652.01,187.04 L652.85,186.85 L653.80,186.68 L654.86,186.54 L656.00,186.41 L657.19,186.29 L658.43,186.18 L659.68,186.07 L660.48,186.00 L661.71,186.01 L662.88,186.00 L663.99,185.97 L665.01,185.92 L665.93,185.83 L666.73,185.71 L667.39,185.54 L667.91,185.34 L668.28,185.08 L668.50,184.78Z" fill="#0808FF" stroke="#000070" stroke-width="0.7" stroke-linejoin="round"/>
<path d="M667.31,191.30 L667.08,191.61 L666.69,191.89 L666.15,192.14 L665.47,192.36 L664.65,192.56 L663.72,192.73 L662.68,192.88 L661.56,193.01 L660.37,193.14 L659.14,193.25 L657.89,193.36 L656.64,193.46 L655.42,193.58 L654.23,193.70 L653.12,193.83 L652.09,193.98 L651.16,194.15 L650.36,194.35 L649.69,194.57 L649.16,194.82 L648.79,195.10 L648.57,195.42 L648.52,195.77 L646.84,204.20 L646.89,203.85 L647.10,203.54 L647.47,203.26 L648.00,203.00 L648.67,202.78 L649.48,202.59 L650.40,202.41 L651.43,202.26 L652.55,202.13 L653.73,202.01 L654.96,201.90 L656.21,201.79 L657.46,201.68 L658.69,201.57 L659.88,201.45 L661.00,201.32 L662.04,201.17 L662.98,200.99 L663.79,200.80 L664.48,200.58 L665.02,200.33 L665.40,200.05 L665.63,199.74Z" fill="#0808FF" stroke="#000070" stroke-width="0.7" stroke-linejoin="round"/>
<path d="M664.13,207.09 L663.86,207.40 L663.43,207.67 L662.84,207.91 L662.12,208.12 L661.27,208.31 L660.30,208.46 L659.24,208.61 L658.09,208.74 L656.89,208.86 L655.65,208.97 L654.40,209.08 L653.16,209.19 L651.94,209.30 L650.77,209.43 L649.68,209.57 L648.68,209.72 L647.78,209.90 L647.02,210.11 L646.38,210.34 L645.90,210.60 L645.57,210.89 L645.41,211.21 L645.40,211.57 L643.73,220.00 L643.73,219.65 L643.90,219.32 L644.22,219.03 L644.71,218.77 L645.34,218.54 L646.11,218.34 L647.00,218.16 L648.00,218.00 L649.10,217.86 L650.26,217.74 L651.48,217.62 L652.73,217.51 L653.98,217.40 L655.22,217.29 L656.42,217.17 L657.56,217.04 L658.62,216.90 L659.58,216.74 L660.43,216.55 L661.16,216.34 L661.74,216.10 L662.17,215.83 L662.44,215.53Z" fill="#0808FF" stroke="#000070" stroke-width="0.7" stroke-linejoin="round"/>
<path d="M661.10,222.54 L660.94,222.86 L660.63,223.16 L660.15,223.42 L659.53,223.65 L658.46,223.15 L657.60,223.41 L656.62,223.67 L655.56,223.91 L654.41,224.15 L653.22,224.39 L651.99,224.61 L650.75,224.84 L649.53,225.07 L648.34,225.31 L647.21,225.55 L646.16,225.79 L645.21,226.05 L644.37,226.32 L643.66,226.60 L643.10,226.90 L642.68,227.21 L642.43,227.53 L642.34,227.88 L641.49,236.43 L641.58,236.09 L641.83,235.77 L642.25,235.45 L642.81,235.16 L643.52,234.88 L644.36,234.61 L645.31,234.35 L646.36,234.11 L647.49,233.87 L648.68,233.63 L649.90,233.40 L651.14,233.17 L652.37,232.94 L653.56,232.71 L654.71,232.47 L655.77,232.23 L656.75,231.97 L657.61,231.71 L657.86,232.09 L658.48,231.86 L658.95,231.59 L659.27,231.30 L659.42,230.97Z" fill="#0808FF" stroke="#000070" stroke-width="0.7" stroke-linejoin="round"/>
<path d="M659.05,237.62 L658.88,237.96 L658.55,238.28 L658.06,238.58 L657.43,238.87 L656.65,239.15 L655.76,239.41 L654.75,239.66 L653.66,239.90 L652.50,240.14 L651.29,240.37 L650.06,240.60 L648.83,240.83 L647.61,241.06 L646.44,241.30 L645.33,241.54 L644.30,241.79 L643.38,242.05 L642.58,242.32 L641.91,242.60 L641.38,242.90 L641.01,243.22 L640.81,243.55 L640.77,243.90 L639.92,252.45 L639.96,252.11 L640.16,251.78 L640.53,251.46 L641.06,251.16 L641.73,250.88 L642.53,250.60 L643.45,250.34 L644.48,250.09 L645.59,249.85 L646.76,249.62 L647.98,249.39 L649.21,249.16 L650.44,248.93 L651.65,248.70 L652.81,248.46 L653.90,248.22 L654.91,247.97 L655.80,247.70 L656.58,247.43 L657.21,247.14 L657.70,246.84 L658.03,246.52 L658.20,246.18Z" fill="#0808FF" stroke="#000070" stroke-width="0.7" stroke-linejoin="round"/>
<path d="M657.35,253.40 L657.14,253.74 L656.78,254.06 L656.25,254.38 L655.59,254.68 L654.78,254.97 L653.86,255.25 L652.84,255.53 L651.73,255.80 L650.57,256.07 L649.36,256.33 L648.13,256.59 L646.90,256.85 L645.70,257.12 L644.55,257.38 L643.47,257.65 L642.48,257.93 L641.59,258.22 L640.83,258.52 L640.21,258.82 L639.74,259.14 L639.42,259.47 L639.27,259.80 L639.28,260.16 L638.66,268.73 L638.65,268.38 L638.80,268.04 L639.11,267.71 L639.59,267.40 L640.21,267.09 L640.97,266.80 L641.85,266.51 L642.84,266.23 L643.93,265.96 L645.08,265.69 L646.28,265.43 L647.50,265.17 L648.73,264.91 L649.94,264.64 L651.11,264.38 L652.22,264.11 L653.24,263.83 L654.16,263.55 L654.96,263.25 L655.63,262.95 L656.15,262.64 L656.52,262.32 L656.72,261.98Z" fill="#0808FF" stroke="#000070" stroke-width="0.7" stroke-linejoin="round"/>
<path d="M655.60,268.02 L655.41,268.39 L655.06,268.77 L654.55,269.17 L653.91,269.58 L653.13,270.01 L652.24,270.44 L651.25,270.88 L650.18,271.33 L649.06,271.79 L647.90,272.25 L646.73,272.71 L645.57,273.17 L644.44,273.62 L643.37,274.07 L642.37,274.52 L641.46,274.95 L640.67,275.38 L640.01,275.79 L639.49,276.19 L639.12,276.58 L638.90,276.95 L638.85,277.31 L639.65,285.87 L639.70,285.51 L639.91,285.14 L640.28,284.76 L640.80,284.36 L641.47,283.94 L642.26,283.52 L643.16,283.08 L644.16,282.64 L645.24,282.19 L646.36,281.73 L647.53,281.27 L648.70,280.81 L649.85,280.35 L650.98,279.90 L652.04,279.45 L653.03,279.00 L653.92,278.57 L654.70,278.14 L655.35,277.73 L655.85,277.33 L656.21,276.95 L656.40,276.58Z" fill="#0808FF" stroke="#000070" stroke-width="0.7" stroke-linejoin="round"/>
<path d="M671.53,150.32 L670.29,150.34 L669.03,150.36 L667.78,150.38 L666.55,150.41 L665.37,150.45 L664.26,150.51" fill="none" stroke="#7070FF" stroke-opacity="0.35" stroke-width="2.6" stroke-linecap="round"/>
<path d="M670.42,165.62 L669.33,165.68 L668.17,165.73 L666.96,165.76 L665.71,165.78 L664.47,165.79 L663.22,165.77 L662.01,165.77" fill="none" stroke="#7070FF" stroke-opacity="0.35" stroke-width="2.6" stroke-linecap="round"/>
<path d="M665.48,181.09 L664.37,181.12 L663.19,181.13 L661.97,181.12 L660.67,181.07 L659.42,181.17 L658.19,181.29" fill="none" stroke="#7070FF" stroke-opacity="0.35" stroke-width="2.6" stroke-linecap="round"/>
<path d="M662.00,196.31 L660.87,196.45 L659.69,196.57 L658.46,196.68 L657.21,196.79 L655.96,196.90 L654.73,197.01" fill="none" stroke="#7070FF" stroke-opacity="0.35" stroke-width="2.6" stroke-linecap="round"/>
<path d="M658.55,212.04 L657.41,212.17 L656.21,212.29 L654.97,212.40 L653.72,212.51 L652.47,212.62 L651.26,212.73" fill="none" stroke="#7070FF" stroke-opacity="0.35" stroke-width="2.6" stroke-linecap="round"/>
<path d="M656.28,227.15 L655.21,227.40 L654.07,227.64 L652.87,227.87 L651.64,228.10 L650.41,228.33 L649.18,228.56" fill="none" stroke="#7070FF" stroke-opacity="0.35" stroke-width="2.6" stroke-linecap="round"/>
<path d="M654.41,243.14 L653.32,243.39 L652.16,243.62 L650.95,243.85 L649.72,244.08 L648.48,244.31 L647.26,244.54" fill="none" stroke="#7070FF" stroke-opacity="0.35" stroke-width="2.6" stroke-linecap="round"/>
<path d="M652.59,259.02 L651.48,259.29 L650.31,259.56 L649.10,259.82 L647.87,260.08 L646.65,260.34 L645.45,260.61" fill="none" stroke="#7070FF" stroke-opacity="0.35" stroke-width="2.6" stroke-linecap="round"/>
<path d="M652.56,273.92 L651.57,274.37 L650.51,274.82 L649.38,275.27 L648.22,275.73 L647.05,276.19 L645.89,276.65 L644.76,277.11" fill="none" stroke="#7070FF" stroke-opacity="0.35" stroke-width="2.6" stroke-linecap="round"/>
<path d="M688.62,157.75 L689.03,158.57 L689.84,159.57 L690.99,160.71 L692.42,161.96 L694.02,163.29 L695.69,164.65 L697.34,166.00 L698.85,167.28 L700.12,168.48 L701.08,169.53 L701.66,170.43 L701.81,171.15 L701.51,171.67 L698.17,179.60 L698.47,179.07 L698.32,178.35 L697.74,177.46 L696.78,176.40 L695.51,175.21 L694.00,173.92 L692.35,172.57 L690.68,171.21 L689.08,169.89 L687.65,168.63 L686.50,167.49 L685.69,166.50 L685.28,165.68Z" fill="#0000C4" stroke="#000070" stroke-width="0.7" stroke-linejoin="round"/>
<path d="M682.31,172.27 L682.47,172.98 L683.07,173.87 L684.05,174.90 L685.36,176.07 L686.89,177.33 L688.57,178.64 L690.27,179.97 L691.90,181.26 L693.35,182.48 L694.52,183.60 L695.35,184.57 L695.77,185.39 L695.75,186.03 L692.57,194.02 L692.59,193.38 L692.18,192.57 L691.35,191.59 L690.17,190.48 L688.72,189.25 L687.09,187.96 L685.39,186.63 L683.72,185.32 L682.18,184.06 L680.88,182.90 L679.90,181.86 L679.30,180.97 L679.13,180.26Z" fill="#0000C4" stroke="#000070" stroke-width="0.7" stroke-linejoin="round"/>
<path d="M676.70,186.76 L676.98,187.57 L677.67,188.58 L678.70,189.76 L680.00,191.09 L681.50,192.50 L683.08,193.96 L684.65,195.41 L686.11,196.80 L687.35,198.09 L688.30,199.24 L688.88,200.20 L689.06,200.96 L688.80,201.50 L684.97,209.20 L685.23,208.66 L685.06,207.90 L684.47,206.94 L683.52,205.80 L682.28,204.51 L680.83,203.11 L679.25,201.66 L677.67,200.20 L676.18,198.79 L674.87,197.47 L673.84,196.28 L673.16,195.27 L672.87,194.46Z" fill="#0000C4" stroke="#000070" stroke-width="0.7" stroke-linejoin="round"/>
<path d="M669.64,200.67 L669.67,201.36 L670.12,202.26 L670.95,203.35 L672.10,204.60 L673.49,205.98 L675.03,207.42 L676.61,208.90 L678.14,210.34 L679.51,211.70 L680.63,212.94 L681.43,214.02 L681.84,214.90 L681.83,215.57 L681.39,216.02 L677.52,223.70 L677.97,223.25 L677.97,222.58 L677.56,221.70 L676.76,220.62 L675.64,219.38 L674.27,218.02 L672.74,216.58 L671.16,215.11 L669.62,213.66 L668.23,212.29 L667.09,211.03 L666.25,209.94 L665.80,209.04 L665.77,208.35Z" fill="#0000C4" stroke="#000070" stroke-width="0.7" stroke-linejoin="round"/>
<path d="M661.95,215.86 L662.23,216.62 L662.93,217.54 L664.00,218.62 L665.37,219.81 L666.95,221.08 L668.64,222.40 L670.33,223.72 L671.93,225.01 L673.32,226.20 L674.41,227.29 L675.14,228.22 L675.45,229.00 L675.31,229.59 L672.14,237.58 L672.27,236.99 L671.96,236.22 L671.24,235.28 L670.14,234.20 L668.75,233.00 L667.16,231.72 L665.46,230.40 L663.77,229.08 L662.19,227.80 L660.82,226.61 L659.75,225.54 L659.05,224.61 L658.78,223.85Z" fill="#0000C4" stroke="#000070" stroke-width="0.7" stroke-linejoin="round"/>
<path d="M656.36,230.03 L656.34,230.68 L656.76,231.53 L657.57,232.56 L658.72,233.74 L660.13,235.04 L661.71,236.42 L663.35,237.83 L664.95,239.21 L666.40,240.54 L667.62,241.75 L668.52,242.82 L669.04,243.72 L669.13,244.42 L668.78,244.92 L665.22,252.75 L665.58,252.25 L665.49,251.55 L664.97,250.65 L664.07,249.58 L662.85,248.37 L661.39,247.04 L659.79,245.66 L658.15,244.25 L656.58,242.88 L655.17,241.58 L654.02,240.39 L653.21,239.36 L652.79,238.51 L652.80,237.86Z" fill="#0000C4" stroke="#000070" stroke-width="0.7" stroke-linejoin="round"/>
<path d="M649.75,244.77 L649.91,245.51 L650.49,246.45 L651.44,247.55 L652.69,248.80 L654.17,250.16 L655.77,251.57 L657.39,252.99 L658.93,254.37 L660.29,255.67 L661.37,256.84 L662.10,257.85 L662.44,258.67 L662.34,259.28 L658.70,267.08 L658.80,266.46 L658.47,265.64 L657.73,264.63 L656.65,263.46 L655.29,262.16 L653.75,260.78 L652.13,259.36 L650.53,257.95 L649.06,256.60 L647.80,255.35 L646.85,254.24 L646.27,253.31 L646.11,252.57Z" fill="#0000C4" stroke="#000070" stroke-width="0.7" stroke-linejoin="round"/>
<path d="M642.82,259.74 L643.18,260.55 L643.95,261.54 L645.07,262.68 L646.46,263.94 L648.04,265.28 L649.70,266.66 L651.34,268.02 L652.85,269.33 L654.14,270.55 L655.11,271.62 L655.71,272.54 L655.89,273.27 L655.62,273.81 L652.20,281.70 L652.47,281.16 L652.29,280.43 L651.69,279.52 L650.72,278.44 L649.43,277.22 L647.92,275.91 L646.28,274.55 L644.62,273.17 L643.04,271.83 L641.65,270.57 L640.53,269.43 L639.76,268.44 L639.40,267.63Z" fill="#0000C4" stroke="#000070" stroke-width="0.7" stroke-linejoin="round"/>
<path d="M635.32,275.30 L635.55,275.97 L636.24,276.75 L637.33,277.63 L638.77,278.59 L640.46,279.60 L642.30,280.65 L644.18,281.71 L645.99,282.76 L647.62,283.76 L648.97,284.70 L649.97,285.55 L650.53,286.30 L650.64,286.94 L650.27,287.48 L648.30,295.85 L648.67,295.32 L648.57,294.67 L648.00,293.92 L647.00,293.07 L645.65,292.13 L644.02,291.13 L642.21,290.08 L640.33,289.02 L638.49,287.97 L636.80,286.96 L635.36,286.00 L634.27,285.12 L633.58,284.35 L633.35,283.67Z" fill="#0000C4" stroke="#000070" stroke-width="0.7" stroke-linejoin="round"/>
<path d="M631.69,291.14 L632.12,291.86 L632.01,294.04 L633.42,294.68 L635.14,295.32 L637.08,295.96 L639.13,296.61 L641.18,297.26 L643.10,297.91 L644.80,298.55 L646.17,299.18 L647.14,299.80 L647.66,300.42 L647.69,301.02 L647.50,309.62 L647.46,309.02 L646.95,308.40 L645.97,307.78 L644.60,307.15 L642.91,306.50 L640.98,305.86 L638.94,305.21 L636.89,304.56 L634.95,303.92 L633.23,303.27 L631.82,302.64 L630.15,300.23 L629.73,299.51Z" fill="#0000C4" stroke="#000070" stroke-width="0.7" stroke-linejoin="round"/>
<path d="M629.96,308.45 L630.25,309.05 L631.01,309.67 L632.19,310.30 L633.74,310.94 L635.57,311.58 L637.57,312.23 L639.63,312.88 L641.64,313.53 L643.48,314.17 L645.05,314.81 L646.26,315.44 L647.02,315.99 L647.34,316.60 L647.18,317.20 L647.05,325.80 L647.22,325.20 L646.89,324.59 L646.07,324.04 L644.85,323.41 L643.28,322.77 L641.44,322.12 L639.43,321.48 L637.37,320.83 L635.37,320.18 L633.55,319.54 L632.00,318.90 L630.81,318.27 L630.05,317.65 L629.77,317.04Z" fill="#0000C4" stroke="#000070" stroke-width="0.7" stroke-linejoin="round"/>
<path d="M629.70,324.76 L630.19,325.37 L631.14,325.99 L632.49,326.61 L634.17,327.24 L636.09,327.87 L638.13,328.50 L640.19,329.13 L642.14,329.76 L643.89,330.39 L645.33,331.02 L646.37,331.63 L646.97,332.24 L647.09,332.85 L646.97,341.45 L646.85,340.84 L646.25,340.23 L645.20,339.61 L643.76,338.99 L642.01,338.36 L640.06,337.73 L638.00,337.10 L635.96,336.47 L634.04,335.84 L632.36,335.21 L631.01,334.59 L630.06,333.97 L629.57,333.36Z" fill="#0000C4" stroke="#000070" stroke-width="0.7" stroke-linejoin="round"/>
<path d="M629.67,341.48 L630.39,342.06 L631.55,342.61 L633.08,343.15 L634.90,343.68 L636.92,344.21 L639.02,344.72 L641.08,345.24 L642.99,345.77 L644.65,346.31 L645.96,346.86 L646.86,347.42 L647.30,348.01 L647.25,348.61 L647.59,357.21 L647.64,356.60 L647.21,356.02 L646.31,355.45 L644.99,354.90 L643.33,354.36 L641.42,353.84 L639.36,353.32 L637.26,352.80 L635.25,352.28 L633.42,351.75 L631.89,351.21 L630.73,350.65 L630.02,350.08Z" fill="#0000C4" stroke="#000070" stroke-width="0.7" stroke-linejoin="round"/>
<path d="M629.93,357.76 L630.41,358.32 L631.36,358.82 L632.72,359.27 L634.42,359.69 L636.37,360.08 L638.46,360.45 L640.59,360.82 L642.63,361.20 L644.48,361.60 L646.04,362.03 L647.23,362.50 L647.98,363.03 L648.25,363.60 L649.20,372.15 L648.93,371.57 L648.18,371.05 L646.99,370.58 L645.43,370.14 L643.58,369.74 L641.54,369.37 L639.41,369.00 L637.32,368.62 L635.37,368.23 L633.67,367.82 L632.31,367.36 L631.36,366.86 L630.88,366.31Z" fill="#0000C4" stroke="#000070" stroke-width="0.7" stroke-linejoin="round"/>
<path d="M631.84,373.90 L632.52,374.43 L633.68,374.83 L635.19,375.29 L637.00,375.71 L639.02,376.11 L641.13,376.51 L643.24,376.90 L645.21,377.31 L646.94,377.74 L648.35,378.20 L649.36,378.71 L649.91,379.26 L649.97,379.86 L650.83,388.41 L650.76,387.82 L650.21,387.27 L649.21,386.76 L647.80,386.30 L646.06,385.87 L644.09,385.46 L641.99,385.06 L639.87,384.67 L637.85,384.27 L636.04,383.84 L634.54,383.39 L633.47,382.98 L632.79,382.45Z" fill="#0000C4" stroke="#000070" stroke-width="0.7" stroke-linejoin="round"/>
<path d="M703.25,157.38 L701.30,157.21 L699.20,156.98 L697.05,156.73 L694.97,156.51 L693.05,156.35 L691.39,156.30 L690.07,156.40 L689.14,156.66 L688.66,157.11 L688.62,157.75 L685.28,165.68 L685.32,165.04 L685.80,164.59 L686.73,164.33 L688.05,164.23 L689.71,164.28 L691.63,164.43 L693.71,164.66 L695.86,164.91 L697.96,165.14 L699.91,165.31Z" fill="#0808FF" stroke="#000070" stroke-width="0.7" stroke-linejoin="round"/>
<path d="M701.51,171.67 L700.76,172.01 L699.60,172.17 L698.07,172.18 L696.25,172.07 L694.22,171.87 L692.01,171.59 L689.87,171.39 L687.84,171.23 L686.02,171.15 L684.49,171.19 L683.33,171.38 L682.60,171.73 L682.31,172.27 L679.13,180.26 L679.42,179.73 L680.16,179.37 L681.32,179.18 L682.84,179.14 L684.67,179.22 L686.70,179.38 L688.83,179.58 L690.88,179.79 L692.91,179.99 L694.73,180.11 L696.26,180.10 L697.42,179.94 L698.17,179.60Z" fill="#0808FF" stroke="#000070" stroke-width="0.7" stroke-linejoin="round"/>
<path d="M695.75,186.03 L695.27,186.48 L694.35,186.77 L693.03,186.89 L691.36,186.88 L689.44,186.76 L687.35,186.58 L685.54,186.44 L683.46,186.08 L681.52,185.79 L679.82,185.62 L678.44,185.60 L677.43,185.78 L676.85,186.16 L676.70,186.76 L672.87,194.46 L673.02,193.86 L673.61,193.48 L674.61,193.30 L675.99,193.32 L677.70,193.49 L679.63,193.78 L681.72,194.15 L684.18,194.57 L686.27,194.75 L688.19,194.87 L689.85,194.88 L691.17,194.76 L692.09,194.48 L692.57,194.02Z" fill="#0808FF" stroke="#000070" stroke-width="0.7" stroke-linejoin="round"/>
<path d="M688.80,201.50 L688.10,201.83 L686.99,201.95 L685.52,201.89 L683.75,201.68 L681.77,201.37 L679.66,201.00 L677.54,200.62 L675.54,200.27 L673.69,200.01 L672.11,199.89 L670.88,199.95 L670.04,200.20 L669.64,200.67 L665.77,208.35 L666.18,207.88 L667.01,207.63 L668.25,207.58 L669.82,207.70 L671.67,207.95 L673.72,208.32 L675.84,208.70 L677.94,209.07 L679.93,209.39 L681.70,209.59 L683.17,209.65 L684.28,209.53 L684.97,209.20Z" fill="#0808FF" stroke="#000070" stroke-width="0.7" stroke-linejoin="round"/>
<path d="M681.39,216.02 L680.51,216.25 L679.25,216.29 L677.64,216.15 L675.77,215.89 L673.73,215.53 L671.61,215.14 L669.51,214.76 L667.55,214.44 L665.25,214.58 L663.81,214.65 L662.75,214.88 L662.12,215.28 L661.95,215.86 L658.78,223.85 L658.95,223.27 L659.57,222.87 L660.63,222.65 L662.07,222.57 L663.68,222.12 L665.65,222.44 L667.74,222.82 L669.86,223.21 L671.91,223.57 L673.78,223.84 L675.38,223.97 L676.65,223.93 L677.52,223.70Z" fill="#0808FF" stroke="#000070" stroke-width="0.7" stroke-linejoin="round"/>
<path d="M675.31,229.59 L674.72,230.00 L673.69,230.24 L672.28,230.33 L670.54,230.28 L668.57,230.15 L666.46,229.96 L664.31,229.75 L662.23,229.57 L660.33,229.46 L659.00,229.24 L657.71,229.32 L656.82,229.57 L656.36,230.03 L652.80,237.86 L653.26,237.40 L654.16,237.15 L655.45,237.08 L657.15,237.46 L659.05,237.56 L661.13,237.74 L663.28,237.95 L665.39,238.14 L667.37,238.28 L669.10,238.32 L670.52,238.23 L671.54,237.99 L672.14,237.58Z" fill="#0808FF" stroke="#000070" stroke-width="0.7" stroke-linejoin="round"/>
<path d="M668.78,244.92 L667.99,245.22 L666.79,245.34 L665.23,245.29 L663.39,245.12 L661.36,244.85 L659.23,244.55 L657.11,244.25 L655.10,244.00 L653.30,243.84 L651.81,243.82 L650.75,243.91 L650.03,244.24 L649.75,244.77 L646.11,252.57 L646.39,252.03 L647.11,251.70 L648.25,251.65 L649.75,251.67 L651.54,251.83 L653.55,252.08 L655.67,252.38 L657.80,252.69 L659.83,252.95 L661.67,253.12 L663.23,253.17 L664.43,253.05 L665.22,252.75Z" fill="#0808FF" stroke="#000070" stroke-width="0.7" stroke-linejoin="round"/>
<path d="M662.34,259.28 L661.80,259.69 L660.83,259.91 L659.47,259.94 L657.79,259.81 L655.86,259.58 L653.77,259.27 L651.64,258.94 L649.55,258.63 L647.63,258.40 L645.95,258.28 L644.59,258.31 L643.42,258.69 L642.90,259.12 L642.82,259.74 L639.40,267.63 L639.48,267.01 L640.00,266.58 L640.96,266.10 L642.31,266.07 L643.99,266.19 L645.92,266.42 L648.00,266.73 L650.14,267.06 L652.22,267.37 L654.15,267.61 L655.83,267.73 L657.19,267.70 L658.16,267.49 L658.70,267.08Z" fill="#0808FF" stroke="#000070" stroke-width="0.7" stroke-linejoin="round"/>
<path d="M655.62,273.81 L654.90,274.16 L653.77,274.32 L652.27,274.33 L650.47,274.20 L648.45,273.99 L646.33,273.72 L644.19,273.45 L642.16,273.23 L640.32,273.09 L638.76,273.07 L637.57,273.21 L636.79,273.52 L635.32,275.30 L633.35,283.67 L633.37,281.41 L634.15,281.10 L635.35,280.96 L636.90,280.98 L638.74,281.12 L640.77,281.34 L642.91,281.61 L645.03,281.88 L647.05,282.09 L648.85,282.22 L650.35,282.21 L651.48,282.05 L652.20,281.70Z" fill="#0808FF" stroke="#000070" stroke-width="0.7" stroke-linejoin="round"/>
<path d="M650.27,287.48 L649.44,287.90 L648.18,288.22 L646.56,288.46 L644.66,288.63 L642.58,288.76 L640.42,288.87 L638.30,288.99 L636.33,289.14 L634.61,289.36 L633.23,289.65 L632.26,290.04 L631.74,290.54 L631.69,291.14 L629.73,299.51 L629.77,298.91 L630.29,298.41 L631.26,298.02 L632.64,297.73 L634.36,297.51 L636.33,297.36 L638.45,297.24 L640.61,297.13 L642.69,297.00 L644.59,296.83 L646.21,296.59 L647.47,296.27 L648.30,295.85Z" fill="#0808FF" stroke="#000070" stroke-width="0.7" stroke-linejoin="round"/>
<path d="M647.69,301.02 L647.24,301.61 L646.32,302.19 L645.00,302.77 L643.33,303.33 L641.41,303.89 L639.36,304.44 L637.27,305.00 L635.28,305.56 L633.48,306.12 L631.97,306.68 L630.85,307.26 L630.17,307.85 L629.96,308.45 L629.77,317.04 L629.97,316.45 L630.65,315.86 L631.78,315.28 L633.28,314.71 L635.08,314.15 L637.08,313.60 L639.16,313.04 L641.22,312.49 L643.13,311.93 L644.80,311.36 L646.13,310.79 L647.04,310.21 L647.50,309.62Z" fill="#0808FF" stroke="#000070" stroke-width="0.7" stroke-linejoin="round"/>
<path d="M647.18,317.20 L646.53,317.79 L645.44,318.38 L643.97,318.96 L642.19,319.53 L640.20,320.10 L638.13,320.67 L636.07,321.25 L634.14,321.82 L632.46,322.40 L631.11,322.98 L630.17,323.56 L629.69,324.16 L629.70,324.76 L629.57,333.36 L629.56,332.76 L630.04,332.16 L630.98,331.58 L632.33,330.99 L634.02,330.42 L635.94,329.84 L638.00,329.27 L640.07,328.70 L642.06,328.13 L643.84,327.56 L645.31,326.98 L646.40,326.39 L647.05,325.80Z" fill="#0808FF" stroke="#000070" stroke-width="0.7" stroke-linejoin="round"/>
<path d="M647.09,332.85 L646.73,333.44 L645.89,334.03 L644.63,334.62 L643.01,335.19 L640.90,335.61 L638.90,336.30 L636.85,336.98 L634.87,337.66 L633.07,338.34 L631.55,339.00 L630.40,339.65 L629.68,340.28 L629.43,340.89 L629.67,341.48 L630.02,350.08 L629.77,349.48 L630.02,348.87 L630.74,348.24 L631.89,347.59 L633.41,346.93 L635.21,346.26 L637.19,345.57 L639.24,344.89 L641.24,344.21 L642.89,343.79 L644.50,343.22 L645.76,342.63 L646.60,342.04 L646.97,341.45Z" fill="#0808FF" stroke="#000070" stroke-width="0.7" stroke-linejoin="round"/>
<path d="M647.25,348.61 L646.71,349.24 L645.72,349.88 L644.34,350.54 L642.64,351.21 L640.72,351.89 L638.68,352.57 L636.65,353.25 L634.73,353.93 L633.03,354.60 L631.66,355.26 L630.68,355.90 L629.93,357.16 L629.93,357.76 L630.88,366.31 L630.88,365.71 L631.02,364.49 L632.00,363.85 L633.38,363.20 L635.07,362.52 L636.99,361.85 L639.03,361.16 L641.06,360.48 L642.98,359.80 L644.68,359.13 L646.07,358.47 L647.05,357.83 L647.59,357.21Z" fill="#0808FF" stroke="#000070" stroke-width="0.7" stroke-linejoin="round"/>
<path d="M648.25,363.60 L648.04,364.23 L647.36,364.91 L646.25,365.64 L644.77,366.41 L643.02,367.21 L641.09,368.03 L639.09,368.86 L637.15,369.68 L635.36,370.48 L633.84,371.26 L632.67,371.99 L631.92,372.68 L631.64,373.32 L631.84,373.90 L632.79,382.45 L632.59,381.87 L632.87,381.23 L633.62,380.54 L634.79,379.81 L636.31,379.03 L638.10,378.23 L640.04,377.40 L642.04,376.58 L643.97,375.76 L645.72,374.96 L647.20,374.19 L648.31,373.46 L648.99,372.78 L649.20,372.15Z" fill="#0808FF" stroke="#000070" stroke-width="0.7" stroke-linejoin="round"/>
<path d="M649.97,379.86 L649.55,380.50 L648.68,381.20 L647.39,381.93 L645.78,382.70 L643.93,383.49 L644.79,392.04 L646.64,391.25 L648.25,390.49 L649.53,389.75 L650.41,389.06 L650.83,388.41Z" fill="#0808FF" stroke="#000070" stroke-width="0.7" stroke-linejoin="round"/>
<path d="M695.69,159.96 L693.61,159.73 L691.69,159.58" fill="none" stroke="#7070FF" stroke-opacity="0.35" stroke-width="2.6" stroke-linecap="round"/>
<path d="M694.89,175.29 L692.86,175.09 L690.72,174.84 L688.58,174.64" fill="none" stroke="#7070FF" stroke-opacity="0.35" stroke-width="2.6" stroke-linecap="round"/>
<path d="M690.07,190.13 L688.15,190.01 L686.06,189.83 L683.98,189.58 L681.90,189.22" fill="none" stroke="#7070FF" stroke-opacity="0.35" stroke-width="2.6" stroke-linecap="round"/>
<path d="M682.20,204.82 L680.21,204.51 L678.11,204.13 L675.99,203.75" fill="none" stroke="#7070FF" stroke-opacity="0.35" stroke-width="2.6" stroke-linecap="round"/>
<path d="M674.20,219.01 L672.16,218.66 L670.03,218.26 L667.94,217.88" fill="none" stroke="#7070FF" stroke-opacity="0.35" stroke-width="2.6" stroke-linecap="round"/>
<path d="M669.25,233.54 L667.28,233.40 L665.16,233.21 L663.02,233.00" fill="none" stroke="#7070FF" stroke-opacity="0.35" stroke-width="2.6" stroke-linecap="round"/>
<path d="M661.94,248.30 L659.91,248.04 L657.78,247.74 L655.66,247.43" fill="none" stroke="#7070FF" stroke-opacity="0.35" stroke-width="2.6" stroke-linecap="round"/>
<path d="M656.31,262.99 L654.38,262.75 L652.29,262.44 L650.16,262.11 L648.07,261.80" fill="none" stroke="#7070FF" stroke-opacity="0.35" stroke-width="2.6" stroke-linecap="round"/>
<path d="M649.07,277.41 L647.06,277.20 L644.94,276.93 L642.80,276.66" fill="none" stroke="#7070FF" stroke-opacity="0.35" stroke-width="2.6" stroke-linecap="round"/>
<path d="M643.86,292.04 L641.78,292.16 L639.62,292.28 L637.50,292.40" fill="none" stroke="#7070FF" stroke-opacity="0.35" stroke-width="2.6" stroke-linecap="round"/>
<path d="M643.25,306.83 L641.33,307.39 L639.28,307.94 L637.19,308.50" fill="none" stroke="#7070FF" stroke-opacity="0.35" stroke-width="2.6" stroke-linecap="round"/>
<path d="M642.13,323.03 L640.15,323.60 L638.07,324.17 L636.02,324.75" fill="none" stroke="#7070FF" stroke-opacity="0.35" stroke-width="2.6" stroke-linecap="round"/>
<path d="M642.96,338.69 L641.04,339.11 L639.04,339.79 L636.99,340.48 L635.01,341.16" fill="none" stroke="#7070FF" stroke-opacity="0.35" stroke-width="2.6" stroke-linecap="round"/>
<path d="M642.78,354.70 L640.86,355.38 L638.82,356.07 L636.79,356.75" fill="none" stroke="#7070FF" stroke-opacity="0.35" stroke-width="2.6" stroke-linecap="round"/>
<path d="M645.16,369.89 L643.40,370.69 L641.47,371.51 L639.48,372.34 L637.53,373.16" fill="none" stroke="#7070FF" stroke-opacity="0.35" stroke-width="2.6" stroke-linecap="round"/>
<path d="M649.90,383.99 L649.02,384.68" fill="none" stroke="#7070FF" stroke-opacity="0.35" stroke-width="2.6" stroke-linecap="round"/>
<path d="M654.61,293.98 L654.71,294.21 L654.89,294.43 L655.13,294.64 L655.44,294.85 L655.81,295.06 L656.25,295.27 L656.74,295.47 L657.29,295.67 L657.88,295.87 L658.52,296.06 L659.20,296.26 L659.92,296.45 L660.66,296.64 L661.43,296.83 L662.21,297.01 L663.00,297.20 L663.80,297.39 L664.60,297.57 L665.39,297.76 L666.16,297.95 L666.91,298.14 L667.64,298.33 L668.34,298.52 L668.99,298.71 L669.61,298.91 L670.18,299.11 L670.69,299.31 L671.15,299.52 L671.55,299.72 L671.89,299.93 L672.16,300.15 L672.36,300.37 L672.50,300.59 L672.56,300.81 L672.55,301.04 L673.00,309.63 L673.01,309.40 L672.94,309.18 L672.81,308.95 L672.60,308.74 L672.33,308.52 L672.00,308.31 L671.60,308.10 L671.14,307.90 L670.62,307.70 L670.06,307.50 L669.44,307.30 L668.78,307.11 L668.09,306.92 L667.36,306.73 L666.61,306.54 L665.83,306.35 L665.05,306.16 L664.25,305.97 L663.45,305.79 L662.66,305.60 L661.87,305.41 L661.11,305.22 L660.36,305.04 L659.65,304.84 L658.97,304.65 L658.33,304.46 L657.73,304.26 L657.19,304.06 L656.70,303.86 L656.26,303.65 L655.89,303.44 L655.58,303.23 L655.34,303.01 L655.16,302.79 L655.05,302.57Z" fill="#0000C4" stroke="#000070" stroke-width="0.7" stroke-linejoin="round"/>
<path d="M655.10,310.99 L655.22,311.20 L655.40,311.40 L655.66,311.58 L655.98,311.76 L656.36,311.93 L656.81,312.08 L657.31,312.23 L657.87,312.37 L658.47,312.49 L659.13,312.61 L659.82,312.73 L660.54,312.84 L661.30,312.94 L662.08,313.04 L662.88,313.13 L663.68,313.23 L664.50,313.32 L665.31,313.41 L666.12,313.51 L666.91,313.61 L667.69,313.71 L668.44,313.81 L669.15,313.92 L669.84,314.03 L670.48,314.16 L671.07,314.29 L671.62,314.43 L672.11,314.57 L672.54,314.73 L672.91,314.90 L673.21,315.08 L673.45,315.27 L673.62,315.47 L673.72,315.69 L673.76,315.91 L675.20,324.39 L675.16,324.16 L675.06,323.95 L674.89,323.75 L674.65,323.56 L674.35,323.38 L673.98,323.21 L673.55,323.05 L673.06,322.90 L672.51,322.77 L671.92,322.63 L671.28,322.51 L670.59,322.40 L669.88,322.29 L669.13,322.18 L668.35,322.08 L667.56,321.99 L666.75,321.89 L665.94,321.80 L665.12,321.71 L664.32,321.61 L663.52,321.52 L662.74,321.42 L661.98,321.32 L661.26,321.21 L660.57,321.09 L659.91,320.97 L659.31,320.84 L658.75,320.71 L658.25,320.56 L657.80,320.41 L657.42,320.24 L657.10,320.06 L656.84,319.88 L656.66,319.68 L656.54,319.46Z" fill="#0000C4" stroke="#000070" stroke-width="0.7" stroke-linejoin="round"/>
<path d="M657.76,326.72 L657.87,326.94 L658.04,327.14 L658.29,327.33 L658.60,327.51 L658.97,327.67 L659.41,327.83 L659.90,327.98 L660.45,328.12 L661.04,328.25 L661.69,328.37 L662.37,328.48 L663.09,328.59 L663.85,328.70 L664.62,328.80 L665.42,328.89 L666.22,328.99 L667.04,329.08 L667.85,329.17 L668.66,329.27 L669.45,329.36 L670.23,329.46 L670.99,329.56 L671.73,329.69 L672.42,329.80 L673.07,329.93 L673.67,330.06 L674.22,330.20 L674.72,330.35 L675.16,330.51 L675.54,330.67 L675.86,330.85 L676.11,331.04 L676.29,331.24 L676.40,331.45 L676.45,331.68 L677.85,340.16 L677.81,339.94 L677.70,339.73 L677.51,339.53 L677.26,339.34 L676.95,339.16 L676.57,338.99 L676.13,338.83 L675.63,338.68 L675.08,338.54 L674.47,338.41 L673.83,338.29 L673.14,338.17 L672.43,338.04 L671.67,337.94 L670.89,337.84 L670.10,337.75 L669.29,337.65 L668.48,337.56 L667.66,337.46 L666.86,337.37 L666.06,337.27 L665.28,337.17 L664.53,337.07 L663.81,336.96 L663.13,336.85 L662.48,336.73 L661.89,336.60 L661.34,336.46 L660.85,336.31 L660.41,336.15 L660.04,335.98 L659.73,335.81 L659.48,335.62 L659.31,335.41 L659.20,335.20Z" fill="#0000C4" stroke="#000070" stroke-width="0.7" stroke-linejoin="round"/>
<path d="M660.40,342.43 L660.49,342.65 L660.66,342.85 L660.89,343.04 L661.18,343.22 L661.55,343.40 L661.97,343.56 L662.45,343.71 L662.99,343.85 L663.58,343.98 L664.22,344.11 L664.89,344.23 L665.61,344.34 L666.35,344.45 L667.13,344.55 L667.92,344.65 L668.72,344.75 L669.53,344.84 L670.35,344.94 L671.16,345.04 L671.96,345.14 L672.74,345.24 L673.50,345.34 L674.23,345.45 L674.92,345.57 L675.58,345.69 L676.19,345.82 L676.75,345.96 L677.26,346.11 L677.71,346.26 L678.10,346.43 L678.42,346.60 L678.69,346.79 L678.88,346.99 L679.01,347.20 L679.06,347.42 L680.47,355.91 L680.41,355.69 L680.29,355.48 L680.09,355.28 L679.83,355.09 L679.50,354.91 L679.11,354.75 L678.66,354.59 L678.16,354.44 L677.59,354.30 L676.98,354.17 L676.33,354.05 L675.63,353.94 L674.90,353.83 L674.15,353.72 L673.36,353.62 L672.57,353.52 L671.76,353.42 L670.94,353.33 L670.13,353.23 L669.32,353.13 L668.53,353.03 L667.76,352.93 L667.02,352.82 L666.30,352.71 L665.62,352.59 L664.99,352.47 L664.40,352.33 L663.86,352.19 L663.38,352.04 L662.95,351.88 L662.59,351.71 L662.29,351.53 L662.06,351.33 L661.90,351.13 L661.81,350.91Z" fill="#0000C4" stroke="#000070" stroke-width="0.7" stroke-linejoin="round"/>
<path d="M663.07,358.37 L663.16,358.59 L663.31,358.79 L663.54,358.98 L663.83,359.15 L664.18,359.32 L664.60,359.47 L665.08,359.61 L665.61,359.75 L666.19,359.87 L666.82,359.98 L667.49,360.08 L668.21,360.18 L668.95,360.27 L669.72,360.36 L670.51,360.44 L671.31,360.52 L672.13,360.60 L672.94,360.68 L673.76,360.75 L674.56,360.83 L675.35,360.92 L676.11,361.00 L676.85,361.10 L677.55,361.19 L678.22,361.30 L678.84,361.41 L679.41,361.54 L679.93,361.67 L680.40,361.82 L680.80,361.97 L681.14,362.14 L681.42,362.32 L681.63,362.51 L681.77,362.71 L681.85,362.93 L683.45,371.38 L683.38,371.16 L683.23,370.96 L683.02,370.77 L682.75,370.59 L682.40,370.42 L682.00,370.26 L681.53,370.12 L681.01,369.99 L680.44,369.86 L679.82,369.75 L679.15,369.64 L678.45,369.55 L677.71,369.45 L676.95,369.37 L676.16,369.28 L675.36,369.20 L674.55,369.12 L673.73,369.05 L672.92,368.97 L672.11,368.89 L671.32,368.81 L670.55,368.72 L669.81,368.63 L669.10,368.53 L668.42,368.43 L667.79,368.32 L667.21,368.20 L666.68,368.06 L666.20,367.92 L665.78,367.77 L665.43,367.60 L665.14,367.43 L664.91,367.24 L664.76,367.04 L664.67,366.82Z" fill="#0000C4" stroke="#000070" stroke-width="0.7" stroke-linejoin="round"/>
<path d="M666.06,374.50 L666.21,374.70 L666.43,374.89 L666.71,375.06 L667.06,375.22 L667.47,375.36 L667.94,375.50 L668.46,375.62 L669.04,375.72 L669.67,375.82 L670.33,375.91 L671.04,375.99 L671.78,376.07 L672.55,376.14 L673.34,376.20 L674.14,376.26 L674.96,376.32 L675.78,376.38 L676.59,376.43 L677.40,376.49 L678.19,376.56 L678.96,376.62 L679.70,376.70 L680.42,376.78 L681.09,376.86 L681.72,376.96 L682.31,377.07 L682.84,377.19 L683.32,377.32 L683.74,377.46 L684.09,377.62 L684.39,377.79 L684.61,377.97 L684.77,378.17 L684.86,378.39 L684.88,378.61 L686.69,387.02 L686.67,386.79 L686.58,386.58 L686.42,386.38 L686.20,386.20 L685.90,386.03 L685.55,385.87 L685.13,385.73 L684.65,385.60 L684.12,385.48 L683.53,385.37 L682.90,385.27 L682.22,385.18 L681.51,385.10 L680.77,385.03 L680.00,384.96 L679.21,384.90 L678.40,384.84 L677.58,384.78 L676.77,384.73 L675.95,384.67 L675.15,384.61 L674.36,384.54 L673.59,384.48 L672.85,384.40 L672.14,384.32 L671.47,384.23 L670.85,384.13 L670.27,384.02 L669.75,383.90 L669.28,383.77 L668.87,383.63 L668.52,383.47 L668.23,383.30 L668.02,383.11 L667.87,382.91Z" fill="#0000C4" stroke="#000070" stroke-width="0.7" stroke-linejoin="round"/>
<path d="M656.24,292.07 L655.81,292.32 L655.44,292.57 L655.13,292.81 L654.89,293.06 L654.71,293.29 L654.61,293.53 L654.57,293.76 L654.61,293.98 L655.05,302.57 L655.02,302.35 L655.05,302.12 L655.16,301.88 L655.33,301.64 L655.58,301.40 L655.88,301.16 L656.25,300.91 L656.68,300.66Z" fill="#0808FF" stroke="#000070" stroke-width="0.7" stroke-linejoin="round"/>
<path d="M672.55,301.04 L672.48,301.27 L672.33,301.51 L672.12,301.75 L671.84,301.99 L671.49,302.24 L671.09,302.49 L670.63,302.74 L670.11,302.99 L669.54,303.25 L668.93,303.51 L668.27,303.77 L667.59,304.04 L666.87,304.30 L666.13,304.57 L665.37,304.84 L664.60,305.11 L663.83,305.38 L663.05,305.64 L662.29,305.91 L661.54,306.18 L660.80,306.45 L660.10,306.71 L659.42,306.98 L658.79,307.24 L658.19,307.50 L657.64,307.75 L657.15,308.01 L656.71,308.26 L656.33,308.51 L656.01,308.75 L655.75,308.99 L655.57,309.23 L655.07,310.53 L655.05,310.76 L655.10,310.99 L656.54,319.46 L656.49,319.24 L656.51,319.01 L656.02,317.82 L656.20,317.58 L656.45,317.34 L656.77,317.09 L657.15,316.85 L657.59,316.60 L658.09,316.34 L658.64,316.08 L659.23,315.83 L659.87,315.56 L660.54,315.30 L661.25,315.04 L661.98,314.77 L662.73,314.50 L663.50,314.23 L664.27,313.96 L665.05,313.70 L665.82,313.43 L666.58,313.16 L667.32,312.89 L668.03,312.63 L668.72,312.36 L669.37,312.10 L669.99,311.84 L670.55,311.58 L671.07,311.33 L671.54,311.08 L671.94,310.83 L672.29,310.58 L672.57,310.34 L672.78,310.10 L672.93,309.86 L673.00,309.63Z" fill="#0808FF" stroke="#000070" stroke-width="0.7" stroke-linejoin="round"/>
<path d="M673.76,315.91 L673.72,316.15 L673.62,316.40 L673.44,316.66 L673.20,316.93 L672.90,317.21 L672.54,317.51 L672.12,317.81 L671.64,318.12 L671.11,318.44 L670.54,318.77 L669.93,319.11 L669.28,319.45 L668.61,319.79 L667.91,320.14 L667.19,320.50 L666.45,320.85 L665.72,321.21 L664.98,321.57 L664.25,321.92 L663.53,322.27 L662.83,322.62 L662.15,322.97 L661.51,323.31 L660.90,323.65 L660.33,323.97 L659.81,324.29 L659.34,324.60 L658.92,324.91 L658.56,325.20 L658.26,325.48 L658.03,325.75 L657.86,326.01 L657.76,326.26 L657.72,326.50 L657.76,326.72 L659.20,335.20 L659.16,334.98 L659.20,334.74 L659.30,334.49 L659.47,334.23 L659.70,333.96 L660.00,333.68 L660.36,333.39 L660.78,333.08 L661.25,332.77 L661.77,332.45 L662.34,332.12 L662.95,331.79 L663.59,331.45 L664.27,331.10 L664.97,330.75 L665.69,330.40 L666.42,330.04 L667.16,329.69 L667.89,329.33 L668.63,328.98 L669.35,328.62 L670.05,328.27 L670.72,327.93 L671.37,327.58 L671.98,327.25 L672.55,326.92 L673.08,326.60 L673.56,326.29 L673.98,325.99 L674.34,325.69 L674.64,325.41 L674.88,325.14 L675.06,324.88 L675.16,324.63 L675.20,324.39Z" fill="#0808FF" stroke="#000070" stroke-width="0.7" stroke-linejoin="round"/>
<path d="M676.45,331.68 L676.42,331.91 L676.33,332.16 L676.16,332.42 L675.94,332.69 L675.64,332.97 L675.29,333.26 L674.87,333.56 L674.41,333.87 L673.89,334.18 L673.32,334.51 L672.72,334.84 L672.07,335.18 L671.40,335.52 L670.70,335.87 L669.98,336.22 L669.25,336.57 L668.51,336.92 L667.77,337.28 L667.04,337.63 L666.32,337.98 L665.61,338.33 L664.93,338.67 L664.28,339.01 L663.66,339.35 L663.09,339.67 L662.55,339.99 L662.07,340.30 L661.64,340.61 L661.27,340.90 L660.96,341.18 L660.71,341.45 L660.53,341.71 L660.42,341.96 L660.37,342.20 L660.40,342.43 L661.81,350.91 L661.78,350.69 L661.83,350.45 L661.94,350.20 L662.12,349.94 L662.37,349.67 L662.68,349.38 L663.05,349.09 L663.48,348.79 L663.96,348.48 L664.49,348.16 L665.07,347.83 L665.69,347.50 L666.34,347.16 L667.02,346.81 L667.73,346.47 L668.45,346.11 L669.18,345.76 L669.92,345.41 L670.66,345.05 L671.39,344.70 L672.11,344.35 L672.81,344.00 L673.48,343.66 L674.12,343.32 L674.73,342.99 L675.30,342.67 L675.81,342.35 L676.28,342.04 L676.70,341.74 L677.05,341.45 L677.34,341.17 L677.57,340.90 L677.73,340.64 L677.83,340.40 L677.85,340.16Z" fill="#0808FF" stroke="#000070" stroke-width="0.7" stroke-linejoin="round"/>
<path d="M679.06,347.42 L679.05,347.66 L678.97,347.90 L678.82,348.16 L678.60,348.42 L678.32,348.70 L677.97,348.99 L677.57,349.29 L677.11,349.60 L676.60,349.91 L676.04,350.24 L675.44,350.57 L674.70,350.83 L674.04,351.19 L673.35,351.55 L672.64,351.91 L671.92,352.28 L671.19,352.65 L670.46,353.02 L669.73,353.39 L669.02,353.76 L668.32,354.13 L667.64,354.49 L666.99,354.84 L666.37,355.19 L665.80,355.53 L665.27,355.87 L664.78,356.19 L664.35,356.50 L663.98,356.81 L663.66,357.10 L663.41,357.38 L663.22,357.64 L663.10,357.90 L663.05,358.14 L663.07,358.37 L664.67,366.82 L664.65,366.59 L664.70,366.35 L664.82,366.09 L665.01,365.83 L665.26,365.55 L665.58,365.26 L665.95,364.95 L666.38,364.64 L666.87,364.31 L667.40,363.98 L667.98,363.64 L668.59,363.29 L669.24,362.94 L669.92,362.58 L670.62,362.21 L671.34,361.84 L672.06,361.47 L672.79,361.10 L673.52,360.73 L674.24,360.36 L674.95,360.00 L675.64,359.63 L676.30,359.28 L676.85,359.05 L677.45,358.72 L678.01,358.40 L678.52,358.08 L678.98,357.77 L679.38,357.48 L679.72,357.19 L680.01,356.91 L680.22,356.64 L680.37,356.39 L680.46,356.14 L680.47,355.91Z" fill="#0808FF" stroke="#000070" stroke-width="0.7" stroke-linejoin="round"/>
<path d="M681.85,362.93 L681.85,363.16 L681.79,363.41 L681.65,363.67 L681.45,363.94 L681.19,364.22 L680.86,364.51 L680.47,364.82 L680.03,365.13 L679.54,365.46 L679.00,365.79 L678.41,366.14 L677.79,366.49 L677.13,366.84 L676.45,367.20 L675.75,367.57 L675.03,367.94 L674.30,368.31 L673.57,368.68 L672.84,369.05 L672.12,369.42 L671.42,369.78 L670.73,370.14 L670.08,370.50 L669.46,370.85 L668.87,371.19 L668.33,371.53 L667.84,371.85 L667.40,372.17 L667.02,372.47 L666.69,372.77 L666.43,373.05 L666.23,373.32 L666.10,373.58 L666.04,373.82 L666.04,374.05 L666.06,374.50 L667.87,382.91 L667.64,382.50 L667.64,382.27 L667.70,382.03 L667.83,381.77 L668.03,381.50 L668.29,381.22 L668.62,380.92 L669.00,380.62 L669.44,380.30 L669.94,379.98 L670.48,379.64 L671.06,379.30 L671.68,378.95 L672.34,378.59 L673.02,378.23 L673.72,377.87 L674.44,377.50 L675.17,377.13 L675.90,376.76 L676.63,376.39 L677.35,376.02 L678.05,375.65 L678.73,375.29 L679.39,374.94 L680.01,374.59 L680.60,374.24 L681.14,373.91 L681.63,373.58 L682.08,373.27 L682.46,372.96 L682.79,372.67 L683.05,372.39 L683.25,372.12 L683.39,371.86 L683.45,371.61 L683.45,371.38Z" fill="#0808FF" stroke="#000070" stroke-width="0.7" stroke-linejoin="round"/>
<path d="M684.88,378.61 L684.84,378.86 L684.72,379.12 L684.54,379.39 L684.29,379.67 L683.98,379.97 L683.62,380.29 L685.42,388.69 L685.79,388.38 L686.10,388.08 L686.35,387.80 L686.53,387.52 L686.65,387.27 L686.69,387.02Z" fill="#0808FF" stroke="#000070" stroke-width="0.7" stroke-linejoin="round"/>
<path d="M655.62,296.07 L655.31,296.31 L655.07,296.55" fill="none" stroke="#7070FF" stroke-opacity="0.35" stroke-width="2.6" stroke-linecap="round"/>
<path d="M669.11,307.01 L668.46,307.27 L667.77,307.53 L667.05,307.80 L666.31,308.07 L665.55,308.33 L664.78,308.60 L664.01,308.87 L663.23,309.14 L662.47,309.41 L661.72,309.68 L660.99,309.94" fill="none" stroke="#7070FF" stroke-opacity="0.35" stroke-width="2.6" stroke-linecap="round"/>
<path d="M671.13,322.22 L670.52,322.56 L669.87,322.90 L669.19,323.24 L668.49,323.59 L667.77,323.95 L667.04,324.30 L666.30,324.66 L665.57,325.02 L664.83,325.37 L664.12,325.72 L663.42,326.07" fill="none" stroke="#7070FF" stroke-opacity="0.35" stroke-width="2.6" stroke-linecap="round"/>
<path d="M673.90,337.96 L673.29,338.29 L672.65,338.63 L671.97,338.97 L671.27,339.32 L670.56,339.67 L669.83,340.02 L669.09,340.38 L668.35,340.73 L667.61,341.08 L666.89,341.43 L666.19,341.78" fill="none" stroke="#7070FF" stroke-opacity="0.35" stroke-width="2.6" stroke-linecap="round"/>
<path d="M676.62,353.69 L676.02,354.02 L675.35,354.27 L674.69,354.62 L674.00,354.99 L673.29,355.35 L672.57,355.72 L671.84,356.09 L671.11,356.46 L670.39,356.83 L669.67,357.20 L668.97,357.57" fill="none" stroke="#7070FF" stroke-opacity="0.35" stroke-width="2.6" stroke-linecap="round"/>
<path d="M679.06,369.58 L678.44,369.93 L677.78,370.28 L677.10,370.64 L676.40,371.01 L675.68,371.38 L674.95,371.75 L674.22,372.12 L673.49,372.49 L672.77,372.86 L672.07,373.22" fill="none" stroke="#7070FF" stroke-opacity="0.35" stroke-width="2.6" stroke-linecap="round"/>
<path d="M685.46,382.54 L685.28,382.81" fill="none" stroke="#7070FF" stroke-opacity="0.35" stroke-width="2.6" stroke-linecap="round"/>
<path d="M652.0,292.0 C652.7,291.6 654.8,290.6 656.0,289.5 C657.2,288.4 658.3,286.8 659.5,285.5 C660.7,284.2 661.9,282.6 663.4,281.8 C664.9,281.1 667.0,280.9 668.7,281.0 C670.4,281.1 672.5,281.7 673.6,282.7 C674.8,283.7 675.4,285.6 675.6,287.1 C675.8,288.6 675.5,290.2 675.0,291.6 C674.5,293.0 673.3,294.3 672.5,295.5 C671.7,296.7 670.4,298.4 670.0,299.0" fill="none" stroke="#0000D0" stroke-width="2.2" stroke-linejoin="round" stroke-linecap="round" />
<path d="M710.6,154.9 C709.5,155.3 706.2,157.2 704.0,157.5 C701.8,157.8 698.7,157.1 697.6,157.0" fill="none" stroke="#0000D0" stroke-width="1.8" stroke-linejoin="round" stroke-linecap="round" />
<path d="M634.6,381.5 C635.0,382.8 635.6,387.8 636.9,389.5 C638.2,391.2 640.7,391.7 642.6,391.8 C644.5,391.9 646.8,391.2 648.3,390.1 C649.8,389.0 650.4,385.9 651.8,384.9 C653.1,383.8 654.7,383.9 656.4,383.8 C658.1,383.7 661.1,384.2 662.1,384.3" fill="none" stroke="#0000D0" stroke-width="2.0" stroke-linejoin="round" stroke-linecap="round" />
<path d="M683.9,381.5 C683.7,382.3 683.8,384.8 682.8,386.1 C681.8,387.4 679.7,388.8 678.2,389.5 C676.7,390.2 675.1,390.5 673.6,390.6 C672.1,390.8 669.8,390.4 669.0,390.4" fill="none" stroke="#0000D0" stroke-width="2.0" stroke-linejoin="round" stroke-linecap="round" />
<path d="M661.0,384.9 C661.3,385.8 661.8,389.1 662.7,390.6 C663.7,392.1 665.5,393.4 666.7,394.1 C667.9,394.8 669.1,395.1 670.1,394.7 C671.1,394.3 672.6,391.5 673.0,391.8 C673.4,392.1 672.4,395.0 672.4,396.4 C672.4,397.8 672.2,399.2 673.0,400.4 C673.8,401.5 675.8,402.1 677.0,403.3 C678.2,404.5 679.7,406.1 680.5,407.8 C681.3,409.5 681.0,411.8 681.6,413.6 C682.2,415.4 682.8,417.6 683.9,418.7 C685.0,419.8 687.5,419.6 688.5,420.5 C689.5,421.4 689.5,422.6 690.2,423.9 C691.0,425.2 691.6,427.3 693.0,428.5 C694.4,429.7 696.7,430.8 698.8,431.0 C700.9,431.2 704.4,430.8 705.7,429.6 C707.0,428.4 707.2,425.6 706.8,423.9 C706.4,422.2 704.7,420.2 703.4,419.3 C702.1,418.4 700.5,417.9 698.8,418.2 C697.1,418.5 694.5,419.7 693.0,421.0 C691.5,422.3 690.2,424.5 690.0,426.0 C689.8,427.5 691.7,429.3 692.0,430.0" fill="none" stroke="#666666" stroke-width="2.4" stroke-linejoin="round" stroke-linecap="round" />
<path d="M661.0,384.9 C661.3,385.8 661.8,389.1 662.7,390.6 C663.7,392.1 665.5,393.4 666.7,394.1 C667.9,394.8 669.1,395.1 670.1,394.7 C671.1,394.3 672.6,391.5 673.0,391.8 C673.4,392.1 672.4,395.0 672.4,396.4 C672.4,397.8 672.2,399.2 673.0,400.4 C673.8,401.5 675.8,402.1 677.0,403.3 C678.2,404.5 679.7,406.1 680.5,407.8 C681.3,409.5 681.0,411.8 681.6,413.6 C682.2,415.4 682.8,417.6 683.9,418.7 C685.0,419.8 687.5,419.6 688.5,420.5 C689.5,421.4 689.5,422.6 690.2,423.9 C691.0,425.2 691.6,427.3 693.0,428.5 C694.4,429.7 696.7,430.8 698.8,431.0 C700.9,431.2 704.4,430.8 705.7,429.6 C707.0,428.4 707.2,425.6 706.8,423.9 C706.4,422.2 704.7,420.2 703.4,419.3 C702.1,418.4 700.5,417.9 698.8,418.2 C697.1,418.5 694.5,419.7 693.0,421.0 C691.5,422.3 690.2,424.5 690.0,426.0 C689.8,427.5 691.7,429.3 692.0,430.0" fill="none" stroke="#b4b4b4" stroke-width="1.1" stroke-linejoin="round" stroke-linecap="round" />
<path d="M691.9,418.2 C692.4,416.8 693.9,412.3 695.0,410.0 C696.1,407.7 698.6,404.1 698.8,404.4 C699.0,404.7 697.0,409.2 696.0,412.0 C695.0,414.8 693.5,419.5 693.0,421.0" fill="none" stroke="#666666" stroke-width="2.4" stroke-linejoin="round" stroke-linecap="round" />
<path d="M691.9,418.2 C692.4,416.8 693.9,412.3 695.0,410.0 C696.1,407.7 698.6,404.1 698.8,404.4 C699.0,404.7 697.0,409.2 696.0,412.0 C695.0,414.8 693.5,419.5 693.0,421.0" fill="none" stroke="#b4b4b4" stroke-width="1.1" stroke-linejoin="round" stroke-linecap="round" />
<path d="M660.4,417.0 C661.5,417.8 664.1,420.5 666.7,421.6 C669.3,422.8 672.9,423.1 675.9,423.9 C678.9,424.7 682.7,425.7 685.0,426.2 C687.3,426.7 688.8,426.7 689.6,426.8" fill="none" stroke="#666666" stroke-width="2.4" stroke-linejoin="round" stroke-linecap="round" />
<path d="M660.4,417.0 C661.5,417.8 664.1,420.5 666.7,421.6 C669.3,422.8 672.9,423.1 675.9,423.9 C678.9,424.7 682.7,425.7 685.0,426.2 C687.3,426.7 688.8,426.7 689.6,426.8" fill="none" stroke="#b4b4b4" stroke-width="1.1" stroke-linejoin="round" stroke-linecap="round" />
<path d="M663.9,467.1 C663.7,465.7 664.2,461.5 662.8,458.7 C661.4,455.9 657.6,452.7 655.5,450.2 C653.4,447.7 651.3,446.0 650.2,443.9 C649.1,441.8 648.6,439.7 649.1,437.6 C649.6,435.5 652.1,433.0 653.3,431.2 C654.5,429.4 656.0,428.8 656.5,427.0 C657.0,425.2 656.3,422.3 656.5,420.7 C656.7,419.1 656.9,418.1 657.6,417.5 C658.3,416.9 660.2,417.0 660.7,416.9" fill="none" stroke="#111" stroke-width="2.0" stroke-linejoin="round" stroke-linecap="round" />
<circle cx="670.8" cy="148.2" r="3.5" fill="#ED7D31"/>
<circle cx="710.8" cy="154.9" r="3.5" fill="#00B050"/>
<circle cx="653.8" cy="282.1" r="3.5" fill="#ED7D31"/>
<circle cx="664.4" cy="298.6" r="3.5" fill="#ED7D31"/>
<circle cx="633.8" cy="295" r="3.5" fill="#00B050"/>
<circle cx="641.2" cy="382.4" r="3.5" fill="#00B050"/>
<circle cx="679.8" cy="377.7" r="3.5" fill="#ED7D31"/>
<text x="642.50" y="64.40" font-family="'Liberation Sans', sans-serif" font-size="15" fill="#C55A11" text-anchor="start" >C</text>
<text x="751.20" y="119.60" font-family="'Liberation Sans', sans-serif" font-size="15" fill="#548235" text-anchor="start" >C</text>
<rect x="660" y="117" width="60.6" height="27.1" fill="none" stroke="#5BC0F0" stroke-width="2"/>
<text x="722.20" y="137.00" font-family="'Liberation Sans', sans-serif" font-size="16.2" fill="#1FA6E6" text-anchor="start" >CCD</text>
<text x="641.00" y="153.30" font-family="'Liberation Sans', sans-serif" font-size="14.3" fill="#C55A11" text-anchor="start" >54</text>
<text x="713.80" y="174.50" font-family="'Liberation Sans', sans-serif" font-size="14.3" fill="#548235" text-anchor="start" >86</text>
<text x="664.00" y="277.20" font-family="'Liberation Sans', sans-serif" font-size="14.3" fill="#C55A11" text-anchor="start" >28</text>
<text x="610.60" y="312.40" font-family="'Liberation Sans', sans-serif" font-size="14.3" fill="#548235" text-anchor="start" >57</text>
<text x="680.90" y="313.10" font-family="'Liberation Sans', sans-serif" font-size="14.3" fill="#C55A11" text-anchor="start" >20</text>
<text x="611.20" y="377.80" font-family="'Liberation Sans', sans-serif" font-size="14.3" fill="#548235" text-anchor="start" >35</text>
<text x="688.00" y="376.40" font-family="'Liberation Sans', sans-serif" font-size="14.3" fill="#C55A11" text-anchor="start" >3</text>
<text x="653.50" y="399.80" font-family="'Liberation Sans', sans-serif" font-size="14.3" fill="#C55A11" text-anchor="start" >N</text>
<text x="601.20" y="414.50" font-family="'Liberation Sans', sans-serif" font-size="16" fill="#548235" text-anchor="start" >FtsL</text>
<text x="702.30" y="414.50" font-family="'Liberation Sans', sans-serif" font-size="16" fill="#C55A11" text-anchor="start" >FtsB</text>
<text x="670.50" y="471.40" font-family="'Liberation Sans', sans-serif" font-size="14.3" fill="#548235" text-anchor="start" >N</text>
<text x="527.00" y="475.90" font-family="'Liberation Sans', sans-serif" font-size="14.3" fill="#000" font-weight="bold" text-anchor="start" >ΔHDX (Da)</text>
<text x="615.40" y="478.30" font-family="'Liberation Sans', sans-serif" font-size="14" fill="#000" text-anchor="start" >N/A</text>
<rect x="665.6" y="473.6" width="5.4" height="2.2" fill="#000"/>
<path d="M709.3,473.0 C710.8,476.6 713.3,476.4 714.8,474.6 C716.4,472.6 719.2,471.6 720.2,475.2" fill="none" stroke="#000" stroke-width="1.5" stroke-linecap="round"/>
<path d="M755.9,473.2 H764.6 M760.25,468.8 V477.6" stroke="#000" stroke-width="1.6"/>
<rect x="601.2" y="483.3" width="45.6" height="5.3" fill="#000"/>
<rect x="646.8" y="483.3" width="45.5" height="5.3" fill="#1A1AF2"/>
<rect x="692.3" y="483.3" width="45.5" height="5.3" fill="#fff"/>
<rect x="737.8" y="483.3" width="45.4" height="5.3" fill="#EE1111"/>
<rect x="601.2" y="483.3" width="182" height="5.3" fill="none" stroke="#000" stroke-width="0.8"/>
</svg>
</body></html>
